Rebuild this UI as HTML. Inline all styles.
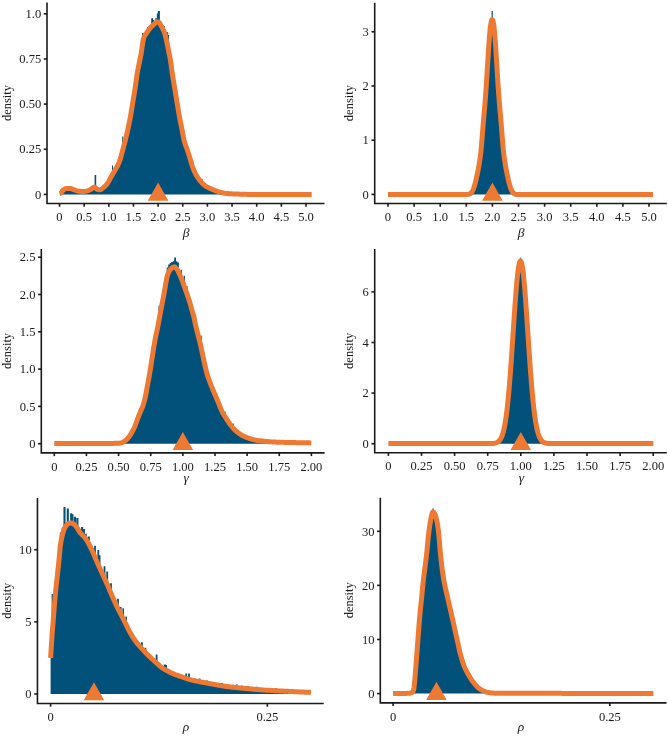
<!DOCTYPE html><html><head><meta charset="utf-8"><style>html,body{margin:0;padding:0;background:#fff;}svg{display:block;}text{font-family:'Liberation Serif', 'Times New Roman', serif;fill:#1a1a1a;}</style></head><body>
<svg width="668" height="736" viewBox="0 0 668 736">
<rect width="668" height="736" fill="#fff"/>
<path d="M59.50 194.40 L59.50 194.40 L60.46 194.28 L61.18 193.71 L61.79 192.86 L62.39 191.96 L63.07 191.22 L63.88 190.63 L64.76 190.04 L65.69 189.59 L66.64 189.40 L67.61 189.41 L68.62 189.43 L69.64 189.47 L70.62 189.53 L71.58 189.77 L72.52 190.15 L73.46 190.54 L74.41 190.87 L75.35 191.22 L76.30 191.56 L77.26 191.86 L78.22 192.07 L79.20 192.21 L80.20 192.33 L81.20 192.43 L82.20 192.49 L83.19 192.50 L84.20 192.43 L85.20 192.30 L86.19 192.13 L87.16 191.93 L88.10 191.67 L89.03 191.28 L89.93 190.82 L90.82 190.34 L91.69 189.77 L92.55 189.06 L93.39 188.42 L94.21 188.03 L94.99 188.17 L95.72 188.92 L96.46 189.80 L97.27 190.32 L98.24 190.53 L99.27 190.67 L100.22 190.67 L101.12 190.34 L101.98 189.76 L102.81 189.07 L103.60 188.42 L104.37 187.79 L105.12 187.11 L105.83 186.39 L106.50 185.64 L107.12 184.87 L107.68 184.07 L108.21 183.23 L108.70 182.36 L109.18 181.47 L109.64 180.58 L110.11 179.68 L110.59 178.80 L111.08 177.93 L111.57 177.06 L112.07 176.19 L112.56 175.32 L113.05 174.45 L113.54 173.58 L114.05 172.71 L114.56 171.85 L115.09 170.99 L115.61 170.13 L116.14 169.26 L116.65 168.40 L117.14 167.53 L117.62 166.65 L118.06 165.76 L118.48 164.87 L118.86 163.96 L119.21 163.04 L119.54 162.11 L119.87 161.18 L120.18 160.23 L120.47 159.28 L120.76 158.32 L121.04 157.36 L121.31 156.39 L121.58 155.42 L121.84 154.45 L122.09 153.48 L122.35 152.50 L122.60 151.53 L122.85 150.56 L123.11 149.59 L123.37 148.62 L123.63 147.66 L123.89 146.69 L124.14 145.72 L124.40 144.76 L124.65 143.79 L124.90 142.82 L125.15 141.85 L125.39 140.89 L125.63 139.92 L125.87 138.95 L126.11 137.97 L126.35 137.00 L126.58 136.03 L126.81 135.06 L127.03 134.08 L127.25 133.11 L127.47 132.14 L127.69 131.16 L127.90 130.19 L128.12 129.21 L128.33 128.23 L128.53 127.25 L128.74 126.28 L128.94 125.30 L129.14 124.32 L129.34 123.34 L129.54 122.36 L129.73 121.38 L129.92 120.40 L130.11 119.41 L130.29 118.43 L130.47 117.45 L130.65 116.47 L130.83 115.48 L131.00 114.50 L131.17 113.52 L131.33 112.53 L131.50 111.55 L131.66 110.56 L131.82 109.57 L131.98 108.59 L132.14 107.60 L132.30 106.61 L132.45 105.63 L132.61 104.64 L132.77 103.65 L132.93 102.66 L133.09 101.68 L133.25 100.69 L133.41 99.71 L133.57 98.72 L133.73 97.73 L133.89 96.75 L134.06 95.76 L134.22 94.78 L134.38 93.79 L134.54 92.80 L134.69 91.82 L134.85 90.83 L135.01 89.84 L135.16 88.85 L135.32 87.87 L135.47 86.88 L135.62 85.89 L135.76 84.90 L135.90 83.91 L136.04 82.92 L136.17 81.93 L136.30 80.94 L136.43 79.95 L136.57 78.96 L136.70 77.97 L136.84 76.98 L136.98 75.99 L137.13 75.00 L137.28 74.02 L137.45 73.03 L137.62 72.05 L137.80 71.07 L138.00 70.09 L138.20 69.11 L138.40 68.13 L138.60 67.15 L138.81 66.17 L139.02 65.19 L139.22 64.21 L139.41 63.23 L139.62 62.26 L139.82 61.28 L140.03 60.30 L140.23 59.32 L140.43 58.34 L140.63 57.36 L140.82 56.38 L141.01 55.40 L141.18 54.42 L141.34 53.43 L141.49 52.44 L141.63 51.45 L141.77 50.46 L141.90 49.47 L142.04 48.48 L142.18 47.49 L142.32 46.50 L142.48 45.52 L142.65 44.53 L142.81 43.54 L142.98 42.53 L143.16 41.53 L143.35 40.54 L143.57 39.57 L143.83 38.63 L144.15 37.72 L144.60 36.86 L145.16 36.02 L145.77 35.19 L146.36 34.36 L146.91 33.53 L147.46 32.69 L148.02 31.85 L148.59 31.03 L149.19 30.24 L149.81 29.47 L150.47 28.72 L151.16 27.99 L151.87 27.28 L152.60 26.59 L153.35 25.93 L154.13 25.24 L154.96 24.47 L155.81 23.72 L156.65 23.11 L157.43 22.75 L158.15 22.76 L158.83 23.20 L159.49 23.96 L160.11 24.92 L160.70 25.96 L161.25 26.96 L161.75 27.83 L162.23 28.70 L162.70 29.58 L163.14 30.49 L163.55 31.41 L163.94 32.34 L164.31 33.28 L164.64 34.22 L164.94 35.16 L165.22 36.11 L165.48 37.08 L165.72 38.05 L165.95 39.02 L166.17 40.00 L166.39 40.98 L166.60 41.96 L166.81 42.94 L167.02 43.92 L167.22 44.90 L167.41 45.88 L167.60 46.86 L167.79 47.84 L167.97 48.82 L168.16 49.80 L168.36 50.79 L168.56 51.76 L168.77 52.74 L168.98 53.72 L169.19 54.70 L169.40 55.67 L169.61 56.65 L169.81 57.63 L170.00 58.61 L170.17 59.59 L170.33 60.58 L170.48 61.57 L170.63 62.55 L170.77 63.54 L170.91 64.53 L171.05 65.52 L171.19 66.51 L171.33 67.50 L171.46 68.49 L171.60 69.48 L171.73 70.47 L171.86 71.47 L171.99 72.46 L172.12 73.45 L172.26 74.44 L172.41 75.42 L172.56 76.41 L172.72 77.40 L172.87 78.38 L173.04 79.37 L173.20 80.36 L173.37 81.34 L173.53 82.33 L173.70 83.31 L173.87 84.30 L174.03 85.28 L174.19 86.27 L174.36 87.26 L174.52 88.24 L174.68 89.23 L174.84 90.21 L175.00 91.20 L175.16 92.19 L175.32 93.17 L175.49 94.16 L175.65 95.14 L175.81 96.13 L175.97 97.12 L176.14 98.10 L176.30 99.09 L176.46 100.07 L176.63 101.06 L176.79 102.04 L176.95 103.03 L177.12 104.02 L177.28 105.00 L177.45 105.99 L177.61 106.97 L177.77 107.96 L177.94 108.95 L178.10 109.93 L178.27 110.92 L178.44 111.90 L178.61 112.89 L178.78 113.87 L178.95 114.85 L179.13 115.84 L179.30 116.82 L179.48 117.80 L179.67 118.79 L179.85 119.77 L180.04 120.75 L180.23 121.73 L180.42 122.71 L180.62 123.69 L180.81 124.67 L181.01 125.65 L181.20 126.63 L181.40 127.61 L181.60 128.59 L181.79 129.57 L181.99 130.55 L182.19 131.53 L182.38 132.51 L182.57 133.49 L182.75 134.48 L182.93 135.46 L183.11 136.45 L183.29 137.44 L183.48 138.42 L183.67 139.40 L183.88 140.38 L184.09 141.35 L184.33 142.32 L184.58 143.28 L184.86 144.23 L185.18 145.17 L185.53 146.11 L185.89 147.04 L186.26 147.98 L186.62 148.91 L186.97 149.85 L187.30 150.80 L187.61 151.74 L187.93 152.69 L188.23 153.65 L188.53 154.60 L188.83 155.55 L189.13 156.51 L189.42 157.46 L189.72 158.42 L190.01 159.37 L190.30 160.33 L190.57 161.29 L190.85 162.26 L191.12 163.22 L191.39 164.18 L191.67 165.14 L191.96 166.10 L192.27 167.05 L192.59 167.99 L192.94 168.92 L193.30 169.85 L193.68 170.78 L194.07 171.71 L194.48 172.62 L194.91 173.53 L195.35 174.42 L195.81 175.30 L196.29 176.17 L196.79 177.04 L197.32 177.90 L197.87 178.75 L198.43 179.58 L199.02 180.39 L199.62 181.18 L200.24 181.94 L200.89 182.71 L201.56 183.48 L202.25 184.22 L202.97 184.94 L203.71 185.62 L204.47 186.26 L205.25 186.84 L206.07 187.37 L206.92 187.87 L207.81 188.34 L208.72 188.79 L209.64 189.22 L210.56 189.63 L211.48 190.03 L212.39 190.43 L213.31 190.82 L214.24 191.20 L215.18 191.56 L216.12 191.90 L217.07 192.23 L218.02 192.53 L218.97 192.80 L219.93 193.08 L220.90 193.34 L221.87 193.60 L222.85 193.84 L223.83 194.06 L224.81 194.25 L225.80 194.40 L226.78 194.40 L227.77 194.40 L228.77 194.40 L229.76 194.40 L230.76 194.40 L231.76 194.40 L232.76 194.40 L233.76 194.40 L234.76 194.40 L235.76 194.40 L236.76 194.40 L237.76 194.40 L238.76 194.40 L239.76 194.40 L240.76 194.40 L241.76 194.40 L242.75 194.40 L243.75 194.40 L244.75 194.40 L245.75 194.40 L246.75 194.40 L247.75 194.40 L248.75 194.40 L249.75 194.40 L250.75 194.40 L251.75 194.40 L252.74 194.40 L253.74 194.40 L254.74 194.40 L255.74 194.40 L256.74 194.40 L257.74 194.40 L258.74 194.40 L259.74 194.40 L260.74 194.40 L261.74 194.40 L262.73 194.40 L263.73 194.40 L264.73 194.40 L265.73 194.40 L266.73 194.40 L267.73 194.40 L268.73 194.40 L269.73 194.40 L270.73 194.40 L271.73 194.40 L272.73 194.40 L273.73 194.40 L274.72 194.40 L275.72 194.40 L276.72 194.40 L277.72 194.40 L278.72 194.40 L279.72 194.40 L280.72 194.40 L281.72 194.40 L282.72 194.40 L283.72 194.40 L284.72 194.40 L285.72 194.40 L286.71 194.40 L287.71 194.40 L288.71 194.40 L289.71 194.40 L290.71 194.40 L291.71 194.40 L292.71 194.40 L293.71 194.40 L294.71 194.40 L295.71 194.40 L296.71 194.40 L297.71 194.40 L298.71 194.40 L299.71 194.40 L300.71 194.40 L301.71 194.40 L302.70 194.40 L303.70 194.40 L304.70 194.40 L305.70 194.40 L306.70 194.40 L307.70 194.40 L308.70 194.40 L309.70 194.40 L310.70 194.40 L311.70 194.40 L311.70 194.40 Z M157.80 194.40 V11.00 H159.90 V194.40 Z M156.85 194.40 V13.40 H158.35 V194.40 Z M155.40 194.40 V17.90 H156.60 V194.40 Z M151.20 194.40 V18.20 H153.00 V194.40 Z M153.00 194.40 V20.00 H154.20 V194.40 Z M147.00 194.40 V27.20 H148.20 V194.40 Z M142.10 194.40 V33.10 H143.70 V194.40 Z M163.70 194.40 V26.00 H164.90 V194.40 Z M167.20 194.40 V32.00 H168.20 V194.40 Z M168.20 194.40 V35.00 H169.00 V194.40 Z M94.60 194.40 V174.90 H96.20 V194.40 Z M122.20 194.40 V136.60 H123.20 V194.40 Z M112.00 194.40 V165.50 H113.00 V194.40 Z M192.10 194.40 V160.20 H193.10 V194.40 Z M201.40 194.40 V179.10 H202.60 V194.40 Z" fill="#02517a"/>
<path d="M59.50 193.50 L60.46 193.28 L61.18 192.71 L61.79 191.86 L62.39 190.96 L63.07 190.22 L63.88 189.63 L64.76 189.04 L65.69 188.59 L66.64 188.40 L67.61 188.41 L68.62 188.43 L69.64 188.47 L70.62 188.53 L71.58 188.77 L72.52 189.15 L73.46 189.54 L74.41 189.87 L75.35 190.22 L76.30 190.56 L77.26 190.86 L78.22 191.07 L79.20 191.21 L80.20 191.33 L81.20 191.43 L82.20 191.49 L83.19 191.50 L84.20 191.43 L85.20 191.30 L86.19 191.13 L87.16 190.93 L88.10 190.67 L89.03 190.28 L89.93 189.82 L90.82 189.34 L91.69 188.77 L92.55 188.06 L93.39 187.42 L94.21 187.03 L94.99 187.17 L95.72 187.92 L96.46 188.80 L97.27 189.32 L98.24 189.53 L99.27 189.67 L100.22 189.67 L101.12 189.34 L101.98 188.76 L102.81 188.07 L103.60 187.42 L104.37 186.79 L105.12 186.11 L105.83 185.39 L106.50 184.64 L107.12 183.87 L107.68 183.07 L108.21 182.23 L108.70 181.36 L109.18 180.47 L109.64 179.58 L110.11 178.68 L110.59 177.80 L111.08 176.93 L111.57 176.06 L112.07 175.19 L112.56 174.32 L113.05 173.45 L113.54 172.58 L114.05 171.71 L114.56 170.85 L115.09 169.99 L115.61 169.13 L116.14 168.26 L116.65 167.40 L117.14 166.53 L117.62 165.65 L118.06 164.76 L118.48 163.87 L118.86 162.96 L119.21 162.04 L119.54 161.11 L119.87 160.18 L120.18 159.23 L120.47 158.28 L120.76 157.32 L121.04 156.36 L121.31 155.39 L121.58 154.42 L121.84 153.45 L122.09 152.48 L122.35 151.50 L122.60 150.53 L122.85 149.56 L123.11 148.59 L123.37 147.62 L123.63 146.66 L123.89 145.69 L124.14 144.72 L124.40 143.76 L124.65 142.79 L124.90 141.82 L125.15 140.85 L125.39 139.89 L125.63 138.92 L125.87 137.95 L126.11 136.97 L126.35 136.00 L126.58 135.03 L126.81 134.06 L127.03 133.08 L127.25 132.11 L127.47 131.14 L127.69 130.16 L127.90 129.19 L128.12 128.21 L128.33 127.23 L128.53 126.25 L128.74 125.28 L128.94 124.30 L129.14 123.32 L129.34 122.34 L129.54 121.36 L129.73 120.38 L129.92 119.40 L130.11 118.41 L130.29 117.43 L130.47 116.45 L130.65 115.47 L130.83 114.48 L131.00 113.50 L131.17 112.52 L131.33 111.53 L131.50 110.55 L131.66 109.56 L131.82 108.57 L131.98 107.59 L132.14 106.60 L132.30 105.61 L132.45 104.63 L132.61 103.64 L132.77 102.65 L132.93 101.66 L133.09 100.68 L133.25 99.69 L133.41 98.71 L133.57 97.72 L133.73 96.73 L133.89 95.75 L134.06 94.76 L134.22 93.78 L134.38 92.79 L134.54 91.80 L134.69 90.82 L134.85 89.83 L135.01 88.84 L135.16 87.85 L135.32 86.87 L135.47 85.88 L135.62 84.89 L135.76 83.90 L135.90 82.91 L136.04 81.92 L136.17 80.93 L136.30 79.94 L136.43 78.95 L136.57 77.96 L136.70 76.97 L136.84 75.98 L136.98 74.99 L137.13 74.00 L137.28 73.02 L137.45 72.03 L137.62 71.05 L137.80 70.07 L138.00 69.09 L138.20 68.11 L138.40 67.13 L138.60 66.15 L138.81 65.17 L139.02 64.19 L139.22 63.21 L139.41 62.23 L139.62 61.26 L139.82 60.28 L140.03 59.30 L140.23 58.32 L140.43 57.34 L140.63 56.36 L140.82 55.38 L141.01 54.40 L141.18 53.42 L141.34 52.43 L141.49 51.44 L141.63 50.45 L141.77 49.46 L141.90 48.47 L142.04 47.48 L142.18 46.49 L142.32 45.50 L142.48 44.52 L142.65 43.53 L142.81 42.54 L142.98 41.53 L143.16 40.53 L143.35 39.54 L143.57 38.57 L143.83 37.63 L144.15 36.72 L144.60 35.86 L145.16 35.02 L145.77 34.19 L146.36 33.36 L146.91 32.53 L147.46 31.69 L148.02 30.85 L148.59 30.03 L149.19 29.24 L149.81 28.47 L150.47 27.72 L151.16 26.99 L151.87 26.28 L152.60 25.59 L153.35 24.93 L154.13 24.24 L154.96 23.47 L155.81 22.72 L156.65 22.11 L157.43 21.75 L158.15 21.76 L158.83 22.20 L159.49 22.96 L160.11 23.92 L160.70 24.96 L161.25 25.96 L161.75 26.83 L162.23 27.70 L162.70 28.58 L163.14 29.49 L163.55 30.41 L163.94 31.34 L164.31 32.28 L164.64 33.22 L164.94 34.16 L165.22 35.11 L165.48 36.08 L165.72 37.05 L165.95 38.02 L166.17 39.00 L166.39 39.98 L166.60 40.96 L166.81 41.94 L167.02 42.92 L167.22 43.90 L167.41 44.88 L167.60 45.86 L167.79 46.84 L167.97 47.82 L168.16 48.80 L168.36 49.79 L168.56 50.76 L168.77 51.74 L168.98 52.72 L169.19 53.70 L169.40 54.67 L169.61 55.65 L169.81 56.63 L170.00 57.61 L170.17 58.59 L170.33 59.58 L170.48 60.57 L170.63 61.55 L170.77 62.54 L170.91 63.53 L171.05 64.52 L171.19 65.51 L171.33 66.50 L171.46 67.49 L171.60 68.48 L171.73 69.47 L171.86 70.47 L171.99 71.46 L172.12 72.45 L172.26 73.44 L172.41 74.42 L172.56 75.41 L172.72 76.40 L172.87 77.38 L173.04 78.37 L173.20 79.36 L173.37 80.34 L173.53 81.33 L173.70 82.31 L173.87 83.30 L174.03 84.28 L174.19 85.27 L174.36 86.26 L174.52 87.24 L174.68 88.23 L174.84 89.21 L175.00 90.20 L175.16 91.19 L175.32 92.17 L175.49 93.16 L175.65 94.14 L175.81 95.13 L175.97 96.12 L176.14 97.10 L176.30 98.09 L176.46 99.07 L176.63 100.06 L176.79 101.04 L176.95 102.03 L177.12 103.02 L177.28 104.00 L177.45 104.99 L177.61 105.97 L177.77 106.96 L177.94 107.95 L178.10 108.93 L178.27 109.92 L178.44 110.90 L178.61 111.89 L178.78 112.87 L178.95 113.85 L179.13 114.84 L179.30 115.82 L179.48 116.80 L179.67 117.79 L179.85 118.77 L180.04 119.75 L180.23 120.73 L180.42 121.71 L180.62 122.69 L180.81 123.67 L181.01 124.65 L181.20 125.63 L181.40 126.61 L181.60 127.59 L181.79 128.57 L181.99 129.55 L182.19 130.53 L182.38 131.51 L182.57 132.49 L182.75 133.48 L182.93 134.46 L183.11 135.45 L183.29 136.44 L183.48 137.42 L183.67 138.40 L183.88 139.38 L184.09 140.35 L184.33 141.32 L184.58 142.28 L184.86 143.23 L185.18 144.17 L185.53 145.11 L185.89 146.04 L186.26 146.98 L186.62 147.91 L186.97 148.85 L187.30 149.80 L187.61 150.74 L187.93 151.69 L188.23 152.65 L188.53 153.60 L188.83 154.55 L189.13 155.51 L189.42 156.46 L189.72 157.42 L190.01 158.37 L190.30 159.33 L190.57 160.29 L190.85 161.26 L191.12 162.22 L191.39 163.18 L191.67 164.14 L191.96 165.10 L192.27 166.05 L192.59 166.99 L192.94 167.92 L193.30 168.85 L193.68 169.78 L194.07 170.71 L194.48 171.62 L194.91 172.53 L195.35 173.42 L195.81 174.30 L196.29 175.17 L196.79 176.04 L197.32 176.90 L197.87 177.75 L198.43 178.58 L199.02 179.39 L199.62 180.18 L200.24 180.94 L200.89 181.71 L201.56 182.48 L202.25 183.22 L202.97 183.94 L203.71 184.62 L204.47 185.26 L205.25 185.84 L206.07 186.37 L206.92 186.87 L207.81 187.34 L208.72 187.79 L209.64 188.22 L210.56 188.63 L211.48 189.03 L212.39 189.43 L213.31 189.82 L214.24 190.20 L215.18 190.56 L216.12 190.90 L217.07 191.23 L218.02 191.53 L218.97 191.80 L219.93 192.08 L220.90 192.34 L221.87 192.60 L222.85 192.84 L223.83 193.06 L224.81 193.25 L225.80 193.40 L226.78 193.51 L227.77 193.59 L228.77 193.66 L229.76 193.73 L230.76 193.78 L231.76 193.84 L232.76 193.88 L233.76 193.92 L234.76 193.96 L235.76 194.00 L236.76 194.04 L237.76 194.08 L238.76 194.12 L239.76 194.15 L240.76 194.19 L241.76 194.23 L242.75 194.26 L243.75 194.29 L244.75 194.32 L245.75 194.34 L246.75 194.36 L247.75 194.38 L248.75 194.39 L249.75 194.40 L250.75 194.40 L251.75 194.41 L252.74 194.41 L253.74 194.41 L254.74 194.42 L255.74 194.42 L256.74 194.42 L257.74 194.43 L258.74 194.43 L259.74 194.43 L260.74 194.44 L261.74 194.44 L262.73 194.44 L263.73 194.44 L264.73 194.45 L265.73 194.45 L266.73 194.45 L267.73 194.45 L268.73 194.46 L269.73 194.46 L270.73 194.46 L271.73 194.46 L272.73 194.46 L273.73 194.47 L274.72 194.47 L275.72 194.47 L276.72 194.47 L277.72 194.47 L278.72 194.48 L279.72 194.48 L280.72 194.48 L281.72 194.48 L282.72 194.48 L283.72 194.48 L284.72 194.48 L285.72 194.49 L286.71 194.49 L287.71 194.49 L288.71 194.49 L289.71 194.49 L290.71 194.49 L291.71 194.49 L292.71 194.49 L293.71 194.49 L294.71 194.49 L295.71 194.49 L296.71 194.50 L297.71 194.50 L298.71 194.50 L299.71 194.50 L300.71 194.50 L301.71 194.50 L302.70 194.50 L303.70 194.50 L304.70 194.50 L305.70 194.50 L306.70 194.50 L307.70 194.50 L308.70 194.50 L309.70 194.50 L310.70 194.50 L311.70 194.50" fill="none" stroke="#ed7933" stroke-width="5" stroke-linejoin="round" stroke-linecap="butt"/>
<path d="M158.10 182.60 L147.80 200.70 L168.40 200.70 Z" fill="#ed7933"/>
<path d="M47.00 2.60 V203.50 H324.50" fill="none" stroke="#1a1a1a" stroke-width="1.6"/>
<path d="M43.80 194.40 H47.00" stroke="#1a1a1a" stroke-width="1.6"/>
<text transform="translate(41.20 198.60) scale(0.93 1)" font-size="13.5" text-anchor="end">0</text>
<path d="M43.80 149.25 H47.00" stroke="#1a1a1a" stroke-width="1.6"/>
<text transform="translate(41.20 153.45) scale(0.93 1)" font-size="13.5" text-anchor="end">0.25</text>
<path d="M43.80 104.10 H47.00" stroke="#1a1a1a" stroke-width="1.6"/>
<text transform="translate(41.20 108.30) scale(0.93 1)" font-size="13.5" text-anchor="end">0.50</text>
<path d="M43.80 58.95 H47.00" stroke="#1a1a1a" stroke-width="1.6"/>
<text transform="translate(41.20 63.15) scale(0.93 1)" font-size="13.5" text-anchor="end">0.75</text>
<path d="M43.80 13.80 H47.00" stroke="#1a1a1a" stroke-width="1.6"/>
<text transform="translate(41.20 18.00) scale(0.93 1)" font-size="13.5" text-anchor="end">1.0</text>
<path d="M59.50 203.50 V206.70" stroke="#1a1a1a" stroke-width="1.6"/>
<text transform="translate(59.50 221.10) scale(0.93 1)" font-size="13.5" text-anchor="middle">0</text>
<path d="M84.15 203.50 V206.70" stroke="#1a1a1a" stroke-width="1.6"/>
<text transform="translate(84.15 221.10) scale(0.93 1)" font-size="13.5" text-anchor="middle">0.5</text>
<path d="M108.80 203.50 V206.70" stroke="#1a1a1a" stroke-width="1.6"/>
<text transform="translate(108.80 221.10) scale(0.93 1)" font-size="13.5" text-anchor="middle">1.0</text>
<path d="M133.45 203.50 V206.70" stroke="#1a1a1a" stroke-width="1.6"/>
<text transform="translate(133.45 221.10) scale(0.93 1)" font-size="13.5" text-anchor="middle">1.5</text>
<path d="M158.10 203.50 V206.70" stroke="#1a1a1a" stroke-width="1.6"/>
<text transform="translate(158.10 221.10) scale(0.93 1)" font-size="13.5" text-anchor="middle">2.0</text>
<path d="M182.75 203.50 V206.70" stroke="#1a1a1a" stroke-width="1.6"/>
<text transform="translate(182.75 221.10) scale(0.93 1)" font-size="13.5" text-anchor="middle">2.5</text>
<path d="M207.40 203.50 V206.70" stroke="#1a1a1a" stroke-width="1.6"/>
<text transform="translate(207.40 221.10) scale(0.93 1)" font-size="13.5" text-anchor="middle">3.0</text>
<path d="M232.05 203.50 V206.70" stroke="#1a1a1a" stroke-width="1.6"/>
<text transform="translate(232.05 221.10) scale(0.93 1)" font-size="13.5" text-anchor="middle">3.5</text>
<path d="M256.70 203.50 V206.70" stroke="#1a1a1a" stroke-width="1.6"/>
<text transform="translate(256.70 221.10) scale(0.93 1)" font-size="13.5" text-anchor="middle">4.0</text>
<path d="M281.35 203.50 V206.70" stroke="#1a1a1a" stroke-width="1.6"/>
<text transform="translate(281.35 221.10) scale(0.93 1)" font-size="13.5" text-anchor="middle">4.5</text>
<path d="M306.00 203.50 V206.70" stroke="#1a1a1a" stroke-width="1.6"/>
<text transform="translate(306.00 221.10) scale(0.93 1)" font-size="13.5" text-anchor="middle">5.0</text>
<text x="186.00" y="236.70" font-size="13.5" font-style="italic" text-anchor="middle">β</text>
<text transform="translate(10.90 103.05) rotate(-90)" font-size="12.5" text-anchor="middle">density</text>
<path d="M388.00 194.40 L388.00 194.40 L389.00 194.40 L390.00 194.40 L391.00 194.40 L392.00 194.40 L393.00 194.40 L394.00 194.40 L395.00 194.40 L396.00 194.40 L397.00 194.40 L398.00 194.40 L399.00 194.40 L400.00 194.40 L401.00 194.40 L402.00 194.40 L403.00 194.40 L404.00 194.40 L405.00 194.40 L406.00 194.40 L407.00 194.40 L408.00 194.40 L409.00 194.40 L410.00 194.40 L411.00 194.40 L412.00 194.40 L413.00 194.40 L414.00 194.40 L415.00 194.40 L415.99 194.40 L416.99 194.40 L417.99 194.40 L418.99 194.40 L419.99 194.40 L420.99 194.40 L421.99 194.40 L422.99 194.40 L423.99 194.40 L424.99 194.40 L425.99 194.40 L426.99 194.40 L427.99 194.40 L428.99 194.40 L429.99 194.40 L430.99 194.40 L431.99 194.40 L432.99 194.40 L433.99 194.40 L434.99 194.40 L435.99 194.40 L436.99 194.40 L437.99 194.40 L438.99 194.40 L439.99 194.40 L440.99 194.40 L441.99 194.40 L442.99 194.40 L443.99 194.40 L444.99 194.40 L445.99 194.40 L446.99 194.40 L447.99 194.40 L448.99 194.40 L449.99 194.40 L450.99 194.40 L451.99 194.40 L452.99 194.40 L453.99 194.40 L454.99 194.40 L455.99 194.40 L456.99 194.40 L457.99 194.40 L458.99 194.40 L459.99 194.40 L460.99 194.40 L461.99 194.40 L462.99 194.40 L463.99 194.40 L464.99 194.40 L465.99 194.40 L466.99 194.40 L467.99 194.40 L468.97 194.40 L469.88 194.40 L470.72 194.30 L471.43 193.60 L472.01 192.79 L472.52 191.93 L472.98 191.04 L473.37 190.12 L473.72 189.18 L474.04 188.24 L474.35 187.29 L474.64 186.33 L474.92 185.37 L475.18 184.40 L475.43 183.44 L475.66 182.46 L475.89 181.49 L476.11 180.52 L476.33 179.54 L476.54 178.56 L476.76 177.59 L476.97 176.61 L477.17 175.63 L477.38 174.65 L477.59 173.67 L477.79 172.69 L477.98 171.71 L478.18 170.73 L478.36 169.75 L478.54 168.77 L478.72 167.78 L478.89 166.80 L479.05 165.81 L479.22 164.83 L479.38 163.84 L479.53 162.85 L479.69 161.86 L479.84 160.87 L479.98 159.88 L480.12 158.90 L480.26 157.90 L480.39 156.91 L480.52 155.92 L480.65 154.93 L480.77 153.94 L480.88 152.94 L480.99 151.95 L481.09 150.96 L481.19 149.96 L481.28 148.97 L481.37 147.97 L481.46 146.97 L481.54 145.98 L481.62 144.98 L481.70 143.98 L481.78 142.99 L481.85 141.99 L481.93 140.99 L482.01 140.00 L482.09 139.00 L482.17 138.00 L482.25 137.01 L482.33 136.01 L482.41 135.01 L482.49 134.02 L482.57 133.02 L482.65 132.02 L482.73 131.03 L482.81 130.03 L482.89 129.03 L482.97 128.04 L483.05 127.04 L483.13 126.04 L483.21 125.05 L483.29 124.05 L483.37 123.05 L483.45 122.06 L483.53 121.06 L483.62 120.07 L483.71 119.07 L483.79 118.07 L483.88 117.08 L483.97 116.08 L484.06 115.09 L484.15 114.09 L484.24 113.09 L484.33 112.10 L484.42 111.10 L484.50 110.11 L484.59 109.11 L484.67 108.11 L484.76 107.12 L484.84 106.12 L484.92 105.12 L485.00 104.13 L485.08 103.13 L485.16 102.13 L485.24 101.14 L485.32 100.14 L485.40 99.14 L485.47 98.15 L485.55 97.15 L485.62 96.15 L485.70 95.16 L485.77 94.16 L485.84 93.16 L485.91 92.16 L485.98 91.17 L486.05 90.17 L486.12 89.17 L486.19 88.18 L486.26 87.18 L486.33 86.18 L486.39 85.18 L486.46 84.18 L486.52 83.19 L486.59 82.19 L486.65 81.19 L486.71 80.19 L486.77 79.20 L486.84 78.20 L486.90 77.20 L486.96 76.20 L487.02 75.20 L487.08 74.21 L487.14 73.21 L487.20 72.21 L487.27 71.21 L487.33 70.21 L487.39 69.22 L487.45 68.22 L487.51 67.22 L487.58 66.22 L487.64 65.22 L487.70 64.23 L487.76 63.23 L487.83 62.23 L487.89 61.23 L487.95 60.24 L488.02 59.24 L488.08 58.24 L488.14 57.24 L488.20 56.24 L488.26 55.25 L488.32 54.25 L488.39 53.25 L488.45 52.25 L488.51 51.25 L488.58 50.26 L488.64 49.26 L488.71 48.26 L488.78 47.26 L488.84 46.27 L488.91 45.27 L488.99 44.27 L489.06 43.28 L489.14 42.28 L489.21 41.28 L489.29 40.28 L489.37 39.29 L489.45 38.29 L489.53 37.29 L489.61 36.30 L489.69 35.30 L489.77 34.30 L489.86 33.31 L489.95 32.31 L490.04 31.32 L490.13 30.32 L490.23 29.33 L490.34 28.33 L490.46 27.34 L490.60 26.35 L490.77 25.37 L490.96 24.38 L491.15 23.40 L491.36 22.42 L491.61 21.38 L491.98 20.50 L492.68 20.97 L492.94 22.03 L493.17 23.02 L493.37 24.00 L493.55 24.98 L493.72 25.97 L493.88 26.96 L494.01 27.95 L494.13 28.94 L494.23 29.93 L494.33 30.93 L494.42 31.93 L494.50 32.92 L494.59 33.92 L494.68 34.91 L494.76 35.91 L494.84 36.91 L494.92 37.90 L494.99 38.90 L495.07 39.90 L495.15 40.89 L495.23 41.89 L495.31 42.89 L495.38 43.88 L495.46 44.88 L495.53 45.88 L495.60 46.88 L495.67 47.87 L495.73 48.87 L495.80 49.87 L495.86 50.87 L495.93 51.86 L495.99 52.86 L496.05 53.86 L496.12 54.86 L496.18 55.86 L496.24 56.85 L496.30 57.85 L496.36 58.85 L496.42 59.85 L496.48 60.85 L496.55 61.84 L496.61 62.84 L496.67 63.84 L496.74 64.84 L496.80 65.83 L496.86 66.83 L496.93 67.83 L496.99 68.83 L497.05 69.83 L497.11 70.82 L497.17 71.82 L497.23 72.82 L497.29 73.82 L497.36 74.82 L497.42 75.81 L497.48 76.81 L497.54 77.81 L497.60 78.81 L497.66 79.81 L497.73 80.80 L497.79 81.80 L497.85 82.80 L497.91 83.80 L497.98 84.79 L498.05 85.79 L498.11 86.79 L498.18 87.79 L498.25 88.78 L498.32 89.78 L498.39 90.78 L498.46 91.78 L498.53 92.77 L498.60 93.77 L498.68 94.77 L498.75 95.77 L498.82 96.76 L498.90 97.76 L498.97 98.76 L499.05 99.75 L499.13 100.75 L499.21 101.75 L499.28 102.74 L499.36 103.74 L499.44 104.74 L499.53 105.73 L499.61 106.73 L499.69 107.73 L499.78 108.72 L499.86 109.72 L499.95 110.71 L500.04 111.71 L500.13 112.71 L500.22 113.70 L500.31 114.70 L500.40 115.69 L500.49 116.69 L500.57 117.69 L500.66 118.68 L500.75 119.68 L500.83 120.67 L500.92 121.67 L501.00 122.67 L501.08 123.66 L501.16 124.66 L501.24 125.66 L501.32 126.65 L501.40 127.65 L501.48 128.65 L501.56 129.64 L501.64 130.64 L501.72 131.64 L501.80 132.63 L501.88 133.63 L501.96 134.63 L502.04 135.62 L502.12 136.62 L502.20 137.62 L502.28 138.61 L502.36 139.61 L502.44 140.61 L502.52 141.60 L502.60 142.60 L502.67 143.60 L502.75 144.59 L502.82 145.59 L502.90 146.59 L502.99 147.58 L503.08 148.58 L503.17 149.57 L503.27 150.57 L503.37 151.56 L503.48 152.56 L503.59 153.55 L503.71 154.54 L503.83 155.54 L503.96 156.53 L504.09 157.52 L504.22 158.51 L504.36 159.50 L504.51 160.49 L504.65 161.48 L504.81 162.47 L504.96 163.45 L505.12 164.44 L505.28 165.43 L505.45 166.41 L505.62 167.40 L505.79 168.38 L505.97 169.37 L506.15 170.35 L506.34 171.33 L506.54 172.31 L506.73 173.29 L506.94 174.27 L507.14 175.25 L507.35 176.23 L507.56 177.21 L507.77 178.18 L507.99 179.16 L508.20 180.14 L508.42 181.11 L508.65 182.09 L508.88 183.06 L509.12 184.03 L509.38 184.99 L509.65 185.96 L509.94 186.91 L510.24 187.87 L510.55 188.82 L510.89 189.76 L511.26 190.69 L511.69 191.59 L512.19 192.46 L512.73 193.29 L513.38 194.06 L514.19 194.40 L515.07 194.40 L516.02 194.40 L517.02 194.40 L518.02 194.40 L519.02 194.40 L520.02 194.40 L521.02 194.40 L522.02 194.40 L523.02 194.40 L524.02 194.40 L525.02 194.40 L526.02 194.40 L527.02 194.40 L528.02 194.40 L529.02 194.40 L530.02 194.40 L531.02 194.40 L532.02 194.40 L533.02 194.40 L534.02 194.40 L535.02 194.40 L536.02 194.40 L537.02 194.40 L538.02 194.40 L539.02 194.40 L540.02 194.40 L541.02 194.40 L542.02 194.40 L543.02 194.40 L544.02 194.40 L545.02 194.40 L546.02 194.40 L547.02 194.40 L548.02 194.40 L549.02 194.40 L550.02 194.40 L551.02 194.40 L552.02 194.40 L553.02 194.40 L554.02 194.40 L555.02 194.40 L556.02 194.40 L557.02 194.40 L558.02 194.40 L559.02 194.40 L560.02 194.40 L561.02 194.40 L562.02 194.40 L563.02 194.40 L564.02 194.40 L565.02 194.40 L566.02 194.40 L567.02 194.40 L568.02 194.40 L569.02 194.40 L570.02 194.40 L571.02 194.40 L572.01 194.40 L573.01 194.40 L574.01 194.40 L575.01 194.40 L576.01 194.40 L577.01 194.40 L578.01 194.40 L579.01 194.40 L580.01 194.40 L581.01 194.40 L582.01 194.40 L583.01 194.40 L584.01 194.40 L585.01 194.40 L586.01 194.40 L587.01 194.40 L588.01 194.40 L589.01 194.40 L590.01 194.40 L591.01 194.40 L592.01 194.40 L593.01 194.40 L594.01 194.40 L595.01 194.40 L596.01 194.40 L597.01 194.40 L598.01 194.40 L599.01 194.40 L600.01 194.40 L601.01 194.40 L602.01 194.40 L603.01 194.40 L604.01 194.40 L605.01 194.40 L606.01 194.40 L607.01 194.40 L608.01 194.40 L609.01 194.40 L610.01 194.40 L611.01 194.40 L612.01 194.40 L613.01 194.40 L614.01 194.40 L615.01 194.40 L616.01 194.40 L617.01 194.40 L618.01 194.40 L619.01 194.40 L620.01 194.40 L621.01 194.40 L622.01 194.40 L623.01 194.40 L624.01 194.40 L625.01 194.40 L626.00 194.40 L627.00 194.40 L628.00 194.40 L629.00 194.40 L630.00 194.40 L631.00 194.40 L632.00 194.40 L633.00 194.40 L634.00 194.40 L635.00 194.40 L636.00 194.40 L637.00 194.40 L638.00 194.40 L639.00 194.40 L640.00 194.40 L641.00 194.40 L642.00 194.40 L643.00 194.40 L644.00 194.40 L645.00 194.40 L646.00 194.40 L647.00 194.40 L648.00 194.40 L649.00 194.40 L650.00 194.40 L651.00 194.40 L652.00 194.40 L653.00 194.40 L653.00 194.40 Z M491.60 194.40 V10.90 H492.80 V194.40 Z" fill="#02517a"/>
<path d="M388.00 194.40 L389.00 194.40 L390.00 194.40 L391.00 194.40 L392.00 194.40 L393.00 194.40 L394.00 194.40 L395.00 194.40 L396.00 194.40 L397.00 194.40 L398.00 194.40 L399.00 194.40 L400.00 194.40 L401.00 194.40 L402.00 194.40 L403.00 194.40 L404.00 194.40 L405.00 194.40 L406.00 194.40 L407.00 194.40 L408.00 194.40 L409.00 194.40 L410.00 194.40 L411.00 194.40 L412.00 194.40 L413.00 194.40 L414.00 194.40 L415.00 194.40 L415.99 194.40 L416.99 194.40 L417.99 194.40 L418.99 194.40 L419.99 194.40 L420.99 194.40 L421.99 194.40 L422.99 194.40 L423.99 194.40 L424.99 194.40 L425.99 194.40 L426.99 194.40 L427.99 194.40 L428.99 194.40 L429.99 194.40 L430.99 194.40 L431.99 194.40 L432.99 194.40 L433.99 194.40 L434.99 194.40 L435.99 194.40 L436.99 194.40 L437.99 194.40 L438.99 194.40 L439.99 194.40 L440.99 194.40 L441.99 194.40 L442.99 194.40 L443.99 194.40 L444.99 194.40 L445.99 194.40 L446.99 194.40 L447.99 194.40 L448.99 194.40 L449.99 194.40 L450.99 194.40 L451.99 194.40 L452.99 194.40 L453.99 194.40 L454.99 194.40 L455.99 194.40 L456.99 194.40 L457.99 194.40 L458.99 194.40 L459.99 194.40 L460.99 194.40 L461.99 194.40 L462.99 194.40 L463.99 194.40 L464.99 194.40 L465.99 194.40 L466.99 194.40 L467.99 194.40 L468.97 194.26 L469.88 193.84 L470.72 193.30 L471.43 192.60 L472.01 191.79 L472.52 190.93 L472.98 190.04 L473.37 189.12 L473.72 188.18 L474.04 187.24 L474.35 186.29 L474.64 185.33 L474.92 184.37 L475.18 183.40 L475.43 182.44 L475.66 181.46 L475.89 180.49 L476.11 179.52 L476.33 178.54 L476.54 177.56 L476.76 176.59 L476.97 175.61 L477.17 174.63 L477.38 173.65 L477.59 172.67 L477.79 171.69 L477.98 170.71 L478.18 169.73 L478.36 168.75 L478.54 167.77 L478.72 166.78 L478.89 165.80 L479.05 164.81 L479.22 163.83 L479.38 162.84 L479.53 161.85 L479.69 160.86 L479.84 159.87 L479.98 158.88 L480.12 157.90 L480.26 156.90 L480.39 155.91 L480.52 154.92 L480.65 153.93 L480.77 152.94 L480.88 151.94 L480.99 150.95 L481.09 149.96 L481.19 148.96 L481.28 147.97 L481.37 146.97 L481.46 145.97 L481.54 144.98 L481.62 143.98 L481.70 142.98 L481.78 141.99 L481.85 140.99 L481.93 139.99 L482.01 139.00 L482.09 138.00 L482.17 137.00 L482.25 136.01 L482.33 135.01 L482.41 134.01 L482.49 133.02 L482.57 132.02 L482.65 131.02 L482.73 130.03 L482.81 129.03 L482.89 128.03 L482.97 127.04 L483.05 126.04 L483.13 125.04 L483.21 124.05 L483.29 123.05 L483.37 122.05 L483.45 121.06 L483.53 120.06 L483.62 119.07 L483.71 118.07 L483.79 117.07 L483.88 116.08 L483.97 115.08 L484.06 114.09 L484.15 113.09 L484.24 112.09 L484.33 111.10 L484.42 110.10 L484.50 109.11 L484.59 108.11 L484.67 107.11 L484.76 106.12 L484.84 105.12 L484.92 104.12 L485.00 103.13 L485.08 102.13 L485.16 101.13 L485.24 100.14 L485.32 99.14 L485.40 98.14 L485.47 97.15 L485.55 96.15 L485.62 95.15 L485.70 94.16 L485.77 93.16 L485.84 92.16 L485.91 91.16 L485.98 90.17 L486.05 89.17 L486.12 88.17 L486.19 87.18 L486.26 86.18 L486.33 85.18 L486.39 84.18 L486.46 83.18 L486.52 82.19 L486.59 81.19 L486.65 80.19 L486.71 79.19 L486.77 78.20 L486.84 77.20 L486.90 76.20 L486.96 75.20 L487.02 74.20 L487.08 73.21 L487.14 72.21 L487.20 71.21 L487.27 70.21 L487.33 69.21 L487.39 68.22 L487.45 67.22 L487.51 66.22 L487.58 65.22 L487.64 64.22 L487.70 63.23 L487.76 62.23 L487.83 61.23 L487.89 60.23 L487.95 59.24 L488.02 58.24 L488.08 57.24 L488.14 56.24 L488.20 55.24 L488.26 54.25 L488.32 53.25 L488.39 52.25 L488.45 51.25 L488.51 50.25 L488.58 49.26 L488.64 48.26 L488.71 47.26 L488.78 46.26 L488.84 45.27 L488.91 44.27 L488.99 43.27 L489.06 42.28 L489.14 41.28 L489.21 40.28 L489.29 39.28 L489.37 38.29 L489.45 37.29 L489.53 36.29 L489.61 35.30 L489.69 34.30 L489.77 33.30 L489.86 32.31 L489.95 31.31 L490.04 30.32 L490.13 29.32 L490.23 28.33 L490.34 27.33 L490.46 26.34 L490.60 25.35 L490.77 24.37 L490.96 23.38 L491.15 22.40 L491.36 21.42 L491.61 20.38 L491.98 19.50 L492.68 19.97 L492.94 21.03 L493.17 22.02 L493.37 23.00 L493.55 23.98 L493.72 24.97 L493.88 25.96 L494.01 26.95 L494.13 27.94 L494.23 28.93 L494.33 29.93 L494.42 30.93 L494.50 31.92 L494.59 32.92 L494.68 33.91 L494.76 34.91 L494.84 35.91 L494.92 36.90 L494.99 37.90 L495.07 38.90 L495.15 39.89 L495.23 40.89 L495.31 41.89 L495.38 42.88 L495.46 43.88 L495.53 44.88 L495.60 45.88 L495.67 46.87 L495.73 47.87 L495.80 48.87 L495.86 49.87 L495.93 50.86 L495.99 51.86 L496.05 52.86 L496.12 53.86 L496.18 54.86 L496.24 55.85 L496.30 56.85 L496.36 57.85 L496.42 58.85 L496.48 59.85 L496.55 60.84 L496.61 61.84 L496.67 62.84 L496.74 63.84 L496.80 64.83 L496.86 65.83 L496.93 66.83 L496.99 67.83 L497.05 68.83 L497.11 69.82 L497.17 70.82 L497.23 71.82 L497.29 72.82 L497.36 73.82 L497.42 74.81 L497.48 75.81 L497.54 76.81 L497.60 77.81 L497.66 78.81 L497.73 79.80 L497.79 80.80 L497.85 81.80 L497.91 82.80 L497.98 83.79 L498.05 84.79 L498.11 85.79 L498.18 86.79 L498.25 87.78 L498.32 88.78 L498.39 89.78 L498.46 90.78 L498.53 91.77 L498.60 92.77 L498.68 93.77 L498.75 94.77 L498.82 95.76 L498.90 96.76 L498.97 97.76 L499.05 98.75 L499.13 99.75 L499.21 100.75 L499.28 101.74 L499.36 102.74 L499.44 103.74 L499.53 104.73 L499.61 105.73 L499.69 106.73 L499.78 107.72 L499.86 108.72 L499.95 109.71 L500.04 110.71 L500.13 111.71 L500.22 112.70 L500.31 113.70 L500.40 114.69 L500.49 115.69 L500.57 116.69 L500.66 117.68 L500.75 118.68 L500.83 119.67 L500.92 120.67 L501.00 121.67 L501.08 122.66 L501.16 123.66 L501.24 124.66 L501.32 125.65 L501.40 126.65 L501.48 127.65 L501.56 128.64 L501.64 129.64 L501.72 130.64 L501.80 131.63 L501.88 132.63 L501.96 133.63 L502.04 134.62 L502.12 135.62 L502.20 136.62 L502.28 137.61 L502.36 138.61 L502.44 139.61 L502.52 140.60 L502.60 141.60 L502.67 142.60 L502.75 143.59 L502.82 144.59 L502.90 145.59 L502.99 146.58 L503.08 147.58 L503.17 148.57 L503.27 149.57 L503.37 150.56 L503.48 151.56 L503.59 152.55 L503.71 153.54 L503.83 154.54 L503.96 155.53 L504.09 156.52 L504.22 157.51 L504.36 158.50 L504.51 159.49 L504.65 160.48 L504.81 161.47 L504.96 162.45 L505.12 163.44 L505.28 164.43 L505.45 165.41 L505.62 166.40 L505.79 167.38 L505.97 168.37 L506.15 169.35 L506.34 170.33 L506.54 171.31 L506.73 172.29 L506.94 173.27 L507.14 174.25 L507.35 175.23 L507.56 176.21 L507.77 177.18 L507.99 178.16 L508.20 179.14 L508.42 180.11 L508.65 181.09 L508.88 182.06 L509.12 183.03 L509.38 183.99 L509.65 184.96 L509.94 185.91 L510.24 186.87 L510.55 187.82 L510.89 188.76 L511.26 189.69 L511.69 190.59 L512.19 191.46 L512.73 192.29 L513.38 193.06 L514.19 193.64 L515.07 194.12 L516.02 194.39 L517.02 194.40 L518.02 194.40 L519.02 194.40 L520.02 194.40 L521.02 194.40 L522.02 194.40 L523.02 194.40 L524.02 194.40 L525.02 194.40 L526.02 194.40 L527.02 194.40 L528.02 194.40 L529.02 194.40 L530.02 194.40 L531.02 194.40 L532.02 194.40 L533.02 194.40 L534.02 194.40 L535.02 194.40 L536.02 194.40 L537.02 194.40 L538.02 194.40 L539.02 194.40 L540.02 194.40 L541.02 194.40 L542.02 194.40 L543.02 194.40 L544.02 194.40 L545.02 194.40 L546.02 194.40 L547.02 194.40 L548.02 194.40 L549.02 194.40 L550.02 194.40 L551.02 194.40 L552.02 194.40 L553.02 194.40 L554.02 194.40 L555.02 194.40 L556.02 194.40 L557.02 194.40 L558.02 194.40 L559.02 194.40 L560.02 194.40 L561.02 194.40 L562.02 194.40 L563.02 194.40 L564.02 194.40 L565.02 194.40 L566.02 194.40 L567.02 194.40 L568.02 194.40 L569.02 194.40 L570.02 194.40 L571.02 194.40 L572.01 194.40 L573.01 194.40 L574.01 194.40 L575.01 194.40 L576.01 194.40 L577.01 194.40 L578.01 194.40 L579.01 194.40 L580.01 194.40 L581.01 194.40 L582.01 194.40 L583.01 194.40 L584.01 194.40 L585.01 194.40 L586.01 194.40 L587.01 194.40 L588.01 194.40 L589.01 194.40 L590.01 194.40 L591.01 194.40 L592.01 194.40 L593.01 194.40 L594.01 194.40 L595.01 194.40 L596.01 194.40 L597.01 194.40 L598.01 194.40 L599.01 194.40 L600.01 194.40 L601.01 194.40 L602.01 194.40 L603.01 194.40 L604.01 194.40 L605.01 194.40 L606.01 194.40 L607.01 194.40 L608.01 194.40 L609.01 194.40 L610.01 194.40 L611.01 194.40 L612.01 194.40 L613.01 194.40 L614.01 194.40 L615.01 194.40 L616.01 194.40 L617.01 194.40 L618.01 194.40 L619.01 194.40 L620.01 194.40 L621.01 194.40 L622.01 194.40 L623.01 194.40 L624.01 194.40 L625.01 194.40 L626.00 194.40 L627.00 194.40 L628.00 194.40 L629.00 194.40 L630.00 194.40 L631.00 194.40 L632.00 194.40 L633.00 194.40 L634.00 194.40 L635.00 194.40 L636.00 194.40 L637.00 194.40 L638.00 194.40 L639.00 194.40 L640.00 194.40 L641.00 194.40 L642.00 194.40 L643.00 194.40 L644.00 194.40 L645.00 194.40 L646.00 194.40 L647.00 194.40 L648.00 194.40 L649.00 194.40 L650.00 194.40 L651.00 194.40 L652.00 194.40 L653.00 194.40" fill="none" stroke="#ed7933" stroke-width="5" stroke-linejoin="round" stroke-linecap="butt"/>
<path d="M492.40 182.60 L482.10 200.70 L502.70 200.70 Z" fill="#ed7933"/>
<path d="M374.70 2.70 V203.50 H666.80" fill="none" stroke="#1a1a1a" stroke-width="1.6"/>
<path d="M371.50 194.40 H374.70" stroke="#1a1a1a" stroke-width="1.6"/>
<text transform="translate(368.90 198.60) scale(0.93 1)" font-size="13.5" text-anchor="end">0</text>
<path d="M371.50 140.20 H374.70" stroke="#1a1a1a" stroke-width="1.6"/>
<text transform="translate(368.90 144.40) scale(0.93 1)" font-size="13.5" text-anchor="end">1</text>
<path d="M371.50 86.00 H374.70" stroke="#1a1a1a" stroke-width="1.6"/>
<text transform="translate(368.90 90.20) scale(0.93 1)" font-size="13.5" text-anchor="end">2</text>
<path d="M371.50 31.80 H374.70" stroke="#1a1a1a" stroke-width="1.6"/>
<text transform="translate(368.90 36.00) scale(0.93 1)" font-size="13.5" text-anchor="end">3</text>
<path d="M388.00 203.50 V206.70" stroke="#1a1a1a" stroke-width="1.6"/>
<text transform="translate(388.00 221.10) scale(0.93 1)" font-size="13.5" text-anchor="middle">0</text>
<path d="M414.10 203.50 V206.70" stroke="#1a1a1a" stroke-width="1.6"/>
<text transform="translate(414.10 221.10) scale(0.93 1)" font-size="13.5" text-anchor="middle">0.5</text>
<path d="M440.20 203.50 V206.70" stroke="#1a1a1a" stroke-width="1.6"/>
<text transform="translate(440.20 221.10) scale(0.93 1)" font-size="13.5" text-anchor="middle">1.0</text>
<path d="M466.30 203.50 V206.70" stroke="#1a1a1a" stroke-width="1.6"/>
<text transform="translate(466.30 221.10) scale(0.93 1)" font-size="13.5" text-anchor="middle">1.5</text>
<path d="M492.40 203.50 V206.70" stroke="#1a1a1a" stroke-width="1.6"/>
<text transform="translate(492.40 221.10) scale(0.93 1)" font-size="13.5" text-anchor="middle">2.0</text>
<path d="M518.50 203.50 V206.70" stroke="#1a1a1a" stroke-width="1.6"/>
<text transform="translate(518.50 221.10) scale(0.93 1)" font-size="13.5" text-anchor="middle">2.5</text>
<path d="M544.60 203.50 V206.70" stroke="#1a1a1a" stroke-width="1.6"/>
<text transform="translate(544.60 221.10) scale(0.93 1)" font-size="13.5" text-anchor="middle">3.0</text>
<path d="M570.70 203.50 V206.70" stroke="#1a1a1a" stroke-width="1.6"/>
<text transform="translate(570.70 221.10) scale(0.93 1)" font-size="13.5" text-anchor="middle">3.5</text>
<path d="M596.80 203.50 V206.70" stroke="#1a1a1a" stroke-width="1.6"/>
<text transform="translate(596.80 221.10) scale(0.93 1)" font-size="13.5" text-anchor="middle">4.0</text>
<path d="M622.90 203.50 V206.70" stroke="#1a1a1a" stroke-width="1.6"/>
<text transform="translate(622.90 221.10) scale(0.93 1)" font-size="13.5" text-anchor="middle">4.5</text>
<path d="M649.00 203.50 V206.70" stroke="#1a1a1a" stroke-width="1.6"/>
<text transform="translate(649.00 221.10) scale(0.93 1)" font-size="13.5" text-anchor="middle">5.0</text>
<text x="521.00" y="236.70" font-size="13.5" font-style="italic" text-anchor="middle">β</text>
<text transform="translate(353.30 103.10) rotate(-90)" font-size="12.5" text-anchor="middle">density</text>
<path d="M54.30 443.70 L54.30 443.70 L55.30 443.70 L56.30 443.70 L57.30 443.70 L58.29 443.70 L59.29 443.70 L60.29 443.70 L61.29 443.70 L62.29 443.70 L63.29 443.70 L64.28 443.70 L65.28 443.70 L66.28 443.70 L67.28 443.70 L68.28 443.70 L69.28 443.70 L70.27 443.70 L71.27 443.70 L72.27 443.70 L73.27 443.70 L74.27 443.70 L75.27 443.70 L76.26 443.70 L77.26 443.70 L78.26 443.70 L79.26 443.70 L80.26 443.70 L81.26 443.70 L82.26 443.70 L83.25 443.70 L84.25 443.70 L85.25 443.70 L86.25 443.70 L87.25 443.70 L88.25 443.70 L89.24 443.70 L90.24 443.70 L91.24 443.70 L92.24 443.70 L93.24 443.70 L94.24 443.70 L95.23 443.70 L96.23 443.70 L97.23 443.70 L98.23 443.70 L99.23 443.70 L100.23 443.70 L101.22 443.70 L102.22 443.70 L103.22 443.70 L104.22 443.70 L105.22 443.70 L106.22 443.70 L107.21 443.70 L108.21 443.70 L109.21 443.70 L110.21 443.70 L111.21 443.70 L112.21 443.70 L113.21 443.70 L114.21 443.70 L115.21 443.70 L116.20 443.70 L117.20 443.70 L118.19 443.70 L119.20 443.70 L120.20 443.70 L121.17 443.70 L122.10 443.60 L123.00 443.13 L123.86 442.59 L124.70 442.05 L125.52 441.46 L126.30 440.83 L127.03 440.17 L127.71 439.46 L128.36 438.70 L128.98 437.90 L129.57 437.08 L130.13 436.25 L130.67 435.42 L131.19 434.57 L131.68 433.70 L132.16 432.81 L132.62 431.93 L133.08 431.04 L133.54 430.15 L133.99 429.26 L134.42 428.36 L134.82 427.45 L135.20 426.53 L135.55 425.59 L135.89 424.65 L136.23 423.71 L136.56 422.77 L136.89 421.83 L137.24 420.89 L137.59 419.96 L137.95 419.02 L138.30 418.09 L138.65 417.15 L139.01 416.22 L139.37 415.29 L139.74 414.36 L140.11 413.44 L140.49 412.51 L140.90 411.60 L141.32 410.69 L141.75 409.79 L142.15 408.88 L142.52 407.95 L142.85 407.01 L143.16 406.07 L143.46 405.11 L143.74 404.15 L144.01 403.19 L144.27 402.22 L144.53 401.26 L144.77 400.29 L145.00 399.32 L145.23 398.35 L145.45 397.37 L145.66 396.39 L145.86 395.42 L146.05 394.44 L146.23 393.46 L146.40 392.47 L146.57 391.49 L146.74 390.51 L146.91 389.52 L147.08 388.54 L147.25 387.55 L147.43 386.57 L147.62 385.59 L147.80 384.61 L147.99 383.63 L148.18 382.65 L148.36 381.67 L148.55 380.69 L148.73 379.70 L148.90 378.72 L149.08 377.74 L149.25 376.75 L149.42 375.77 L149.60 374.79 L149.76 373.80 L149.93 372.82 L150.10 371.83 L150.26 370.85 L150.42 369.86 L150.58 368.88 L150.74 367.89 L150.89 366.91 L151.04 365.92 L151.20 364.93 L151.35 363.95 L151.50 362.96 L151.65 361.97 L151.80 360.99 L151.95 360.00 L152.11 359.01 L152.26 358.03 L152.40 357.04 L152.55 356.05 L152.70 355.06 L152.86 354.08 L153.01 353.09 L153.16 352.10 L153.32 351.12 L153.48 350.13 L153.64 349.15 L153.80 348.16 L153.96 347.18 L154.13 346.19 L154.29 345.21 L154.46 344.22 L154.63 343.24 L154.80 342.25 L154.98 341.27 L155.16 340.29 L155.34 339.31 L155.53 338.33 L155.73 337.35 L155.95 336.38 L156.18 335.41 L156.41 334.43 L156.63 333.46 L156.85 332.48 L157.05 331.51 L157.25 330.53 L157.44 329.55 L157.63 328.57 L157.82 327.59 L158.01 326.61 L158.19 325.63 L158.38 324.65 L158.56 323.67 L158.75 322.68 L158.93 321.70 L159.11 320.72 L159.29 319.74 L159.47 318.76 L159.65 317.77 L159.83 316.79 L160.01 315.81 L160.19 314.83 L160.37 313.85 L160.55 312.86 L160.73 311.88 L160.91 310.90 L161.09 309.92 L161.28 308.94 L161.46 307.96 L161.65 306.98 L161.84 305.99 L162.03 305.01 L162.22 304.04 L162.41 303.06 L162.61 302.08 L162.80 301.10 L162.99 300.12 L163.18 299.14 L163.37 298.16 L163.55 297.18 L163.74 296.19 L163.92 295.21 L164.10 294.23 L164.27 293.25 L164.45 292.26 L164.63 291.28 L164.80 290.30 L164.97 289.32 L165.14 288.33 L165.30 287.35 L165.46 286.36 L165.63 285.38 L165.80 284.39 L165.97 283.41 L166.15 282.43 L166.33 281.44 L166.51 280.46 L166.70 279.47 L166.91 278.50 L167.14 277.53 L167.41 276.57 L167.71 275.61 L168.06 274.66 L168.45 273.74 L168.87 272.86 L169.37 271.99 L169.94 271.13 L170.57 270.33 L171.26 269.62 L172.01 268.98 L172.90 268.33 L173.81 267.88 L174.65 267.86 L175.47 268.39 L176.24 269.21 L176.89 270.02 L177.43 270.81 L177.91 271.69 L178.34 272.61 L178.76 273.54 L179.18 274.46 L179.61 275.37 L180.02 276.27 L180.42 277.19 L180.82 278.10 L181.21 279.03 L181.58 279.95 L181.95 280.88 L182.31 281.81 L182.66 282.74 L182.99 283.68 L183.32 284.63 L183.65 285.57 L183.97 286.52 L184.30 287.46 L184.63 288.40 L184.96 289.34 L185.30 290.28 L185.64 291.22 L185.97 292.16 L186.31 293.10 L186.64 294.04 L186.98 294.99 L187.31 295.93 L187.63 296.87 L187.96 297.81 L188.29 298.76 L188.62 299.70 L188.94 300.65 L189.25 301.60 L189.55 302.55 L189.84 303.50 L190.11 304.46 L190.38 305.42 L190.64 306.39 L190.90 307.35 L191.16 308.32 L191.42 309.28 L191.68 310.24 L191.96 311.20 L192.24 312.16 L192.53 313.12 L192.82 314.08 L193.10 315.03 L193.38 315.99 L193.64 316.96 L193.88 317.92 L194.11 318.89 L194.31 319.87 L194.51 320.85 L194.70 321.83 L194.89 322.81 L195.08 323.79 L195.28 324.77 L195.49 325.75 L195.71 326.72 L195.94 327.69 L196.18 328.66 L196.42 329.63 L196.67 330.59 L196.92 331.56 L197.17 332.53 L197.42 333.50 L197.67 334.46 L197.91 335.43 L198.15 336.40 L198.40 337.37 L198.65 338.34 L198.89 339.30 L199.14 340.27 L199.38 341.24 L199.63 342.21 L199.87 343.18 L200.10 344.15 L200.33 345.12 L200.56 346.09 L200.78 347.06 L201.00 348.04 L201.22 349.01 L201.43 349.99 L201.64 350.96 L201.85 351.94 L202.06 352.91 L202.27 353.89 L202.48 354.87 L202.69 355.84 L202.90 356.82 L203.10 357.80 L203.30 358.78 L203.50 359.75 L203.70 360.73 L203.90 361.71 L204.11 362.69 L204.31 363.66 L204.53 364.64 L204.74 365.61 L204.97 366.59 L205.19 367.56 L205.42 368.53 L205.66 369.50 L205.90 370.47 L206.14 371.44 L206.39 372.41 L206.65 373.37 L206.92 374.33 L207.20 375.29 L207.49 376.24 L207.79 377.19 L208.11 378.14 L208.43 379.08 L208.77 380.03 L209.11 380.96 L209.46 381.90 L209.81 382.84 L210.16 383.77 L210.52 384.71 L210.88 385.64 L211.24 386.57 L211.60 387.50 L211.98 388.42 L212.35 389.35 L212.74 390.27 L213.12 391.19 L213.51 392.11 L213.90 393.03 L214.29 393.95 L214.67 394.87 L215.06 395.79 L215.45 396.71 L215.84 397.63 L216.24 398.55 L216.63 399.46 L217.03 400.38 L217.42 401.30 L217.81 402.21 L218.20 403.13 L218.59 404.06 L218.96 404.98 L219.33 405.92 L219.69 406.85 L220.05 407.79 L220.41 408.72 L220.78 409.65 L221.17 410.57 L221.57 411.48 L221.99 412.38 L222.44 413.26 L222.91 414.13 L223.41 415.00 L223.93 415.85 L224.46 416.70 L225.00 417.55 L225.55 418.39 L226.09 419.22 L226.64 420.06 L227.18 420.90 L227.72 421.74 L228.27 422.58 L228.82 423.42 L229.38 424.26 L229.95 425.08 L230.54 425.89 L231.14 426.68 L231.76 427.45 L232.40 428.20 L233.05 428.96 L233.73 429.70 L234.43 430.43 L235.14 431.15 L235.86 431.84 L236.61 432.51 L237.36 433.15 L238.14 433.76 L238.94 434.35 L239.77 434.91 L240.61 435.46 L241.48 435.97 L242.35 436.46 L243.23 436.92 L244.13 437.36 L245.03 437.78 L245.95 438.18 L246.89 438.56 L247.82 438.90 L248.76 439.22 L249.71 439.52 L250.67 439.81 L251.63 440.10 L252.59 440.37 L253.56 440.63 L254.54 440.87 L255.52 441.10 L256.50 441.29 L257.48 441.47 L258.46 441.61 L259.44 441.73 L260.42 441.85 L261.41 441.97 L262.40 442.08 L263.39 442.19 L264.39 442.29 L265.38 442.39 L266.38 442.48 L267.37 442.57 L268.37 442.65 L269.37 442.73 L270.37 442.80 L271.37 442.87 L272.37 442.93 L273.37 442.99 L274.37 443.04 L275.37 443.09 L276.37 443.14 L277.36 443.18 L278.36 443.22 L279.36 443.25 L280.35 443.28 L281.35 443.31 L282.35 443.34 L283.35 443.36 L284.35 443.39 L285.34 443.41 L286.34 443.43 L287.34 443.45 L288.34 443.47 L289.34 443.49 L290.34 443.51 L291.34 443.53 L292.33 443.55 L293.33 443.57 L294.33 443.59 L295.33 443.61 L296.33 443.63 L297.33 443.65 L298.32 443.67 L299.32 443.69 L300.32 443.70 L301.32 443.70 L302.32 443.70 L303.31 443.70 L304.31 443.70 L305.31 443.70 L306.31 443.70 L307.31 443.70 L308.31 443.70 L309.30 443.70 L310.30 443.70 L311.30 443.70 L311.30 443.70 Z M166.70 443.70 V267.50 H168.30 V443.70 Z M168.20 443.70 V264.50 H169.80 V443.70 Z M169.70 443.70 V263.00 H171.30 V443.70 Z M171.20 443.70 V262.00 H172.80 V443.70 Z M172.70 443.70 V261.30 H174.30 V443.70 Z M174.20 443.70 V257.50 H176.00 V443.70 Z M175.80 443.70 V261.30 H177.40 V443.70 Z M177.30 443.70 V262.60 H178.90 V443.70 Z M180.70 443.70 V269.80 H181.90 V443.70 Z M183.70 443.70 V275.70 H184.90 V443.70 Z M186.50 443.70 V286.00 H187.50 V443.70 Z M196.70 443.70 V325.70 H197.70 V443.70 Z M200.70 443.70 V335.40 H201.70 V443.70 Z M208.20 443.70 V372.80 H209.20 V443.70 Z M211.10 443.70 V381.70 H212.10 V443.70 Z M224.60 443.70 V411.60 H225.60 V443.70 Z M232.80 443.70 V423.50 H233.80 V443.70 Z M158.50 443.70 V305.70 H159.50 V443.70 Z" fill="#02517a"/>
<path d="M54.30 443.50 L55.30 443.50 L56.30 443.50 L57.30 443.50 L58.29 443.50 L59.29 443.50 L60.29 443.50 L61.29 443.50 L62.29 443.50 L63.29 443.50 L64.28 443.50 L65.28 443.50 L66.28 443.50 L67.28 443.50 L68.28 443.49 L69.28 443.49 L70.27 443.49 L71.27 443.49 L72.27 443.49 L73.27 443.49 L74.27 443.49 L75.27 443.49 L76.26 443.49 L77.26 443.48 L78.26 443.48 L79.26 443.48 L80.26 443.48 L81.26 443.48 L82.26 443.48 L83.25 443.47 L84.25 443.47 L85.25 443.47 L86.25 443.47 L87.25 443.47 L88.25 443.47 L89.24 443.46 L90.24 443.46 L91.24 443.46 L92.24 443.46 L93.24 443.45 L94.24 443.45 L95.23 443.45 L96.23 443.45 L97.23 443.44 L98.23 443.44 L99.23 443.44 L100.23 443.43 L101.22 443.43 L102.22 443.43 L103.22 443.42 L104.22 443.42 L105.22 443.42 L106.22 443.41 L107.21 443.41 L108.21 443.41 L109.21 443.40 L110.21 443.40 L111.21 443.39 L112.21 443.39 L113.21 443.38 L114.21 443.37 L115.21 443.36 L116.20 443.34 L117.20 443.32 L118.19 443.29 L119.20 443.21 L120.20 443.07 L121.17 442.87 L122.10 442.60 L123.00 442.13 L123.86 441.59 L124.70 441.05 L125.52 440.46 L126.30 439.83 L127.03 439.17 L127.71 438.46 L128.36 437.70 L128.98 436.90 L129.57 436.08 L130.13 435.25 L130.67 434.42 L131.19 433.57 L131.68 432.70 L132.16 431.81 L132.62 430.93 L133.08 430.04 L133.54 429.15 L133.99 428.26 L134.42 427.36 L134.82 426.45 L135.20 425.53 L135.55 424.59 L135.89 423.65 L136.23 422.71 L136.56 421.77 L136.89 420.83 L137.24 419.89 L137.59 418.96 L137.95 418.02 L138.30 417.09 L138.65 416.15 L139.01 415.22 L139.37 414.29 L139.74 413.36 L140.11 412.44 L140.49 411.51 L140.90 410.60 L141.32 409.69 L141.75 408.79 L142.15 407.88 L142.52 406.95 L142.85 406.01 L143.16 405.07 L143.46 404.11 L143.74 403.15 L144.01 402.19 L144.27 401.22 L144.53 400.26 L144.77 399.29 L145.00 398.32 L145.23 397.35 L145.45 396.37 L145.66 395.39 L145.86 394.42 L146.05 393.44 L146.23 392.46 L146.40 391.47 L146.57 390.49 L146.74 389.51 L146.91 388.52 L147.08 387.54 L147.25 386.55 L147.43 385.57 L147.62 384.59 L147.80 383.61 L147.99 382.63 L148.18 381.65 L148.36 380.67 L148.55 379.69 L148.73 378.70 L148.90 377.72 L149.08 376.74 L149.25 375.75 L149.42 374.77 L149.60 373.79 L149.76 372.80 L149.93 371.82 L150.10 370.83 L150.26 369.85 L150.42 368.86 L150.58 367.88 L150.74 366.89 L150.89 365.91 L151.04 364.92 L151.20 363.93 L151.35 362.95 L151.50 361.96 L151.65 360.97 L151.80 359.99 L151.95 359.00 L152.11 358.01 L152.26 357.03 L152.40 356.04 L152.55 355.05 L152.70 354.06 L152.86 353.08 L153.01 352.09 L153.16 351.10 L153.32 350.12 L153.48 349.13 L153.64 348.15 L153.80 347.16 L153.96 346.18 L154.13 345.19 L154.29 344.21 L154.46 343.22 L154.63 342.24 L154.80 341.25 L154.98 340.27 L155.16 339.29 L155.34 338.31 L155.53 337.33 L155.73 336.35 L155.95 335.38 L156.18 334.41 L156.41 333.43 L156.63 332.46 L156.85 331.48 L157.05 330.51 L157.25 329.53 L157.44 328.55 L157.63 327.57 L157.82 326.59 L158.01 325.61 L158.19 324.63 L158.38 323.65 L158.56 322.67 L158.75 321.68 L158.93 320.70 L159.11 319.72 L159.29 318.74 L159.47 317.76 L159.65 316.77 L159.83 315.79 L160.01 314.81 L160.19 313.83 L160.37 312.85 L160.55 311.86 L160.73 310.88 L160.91 309.90 L161.09 308.92 L161.28 307.94 L161.46 306.96 L161.65 305.98 L161.84 304.99 L162.03 304.01 L162.22 303.04 L162.41 302.06 L162.61 301.08 L162.80 300.10 L162.99 299.12 L163.18 298.14 L163.37 297.16 L163.55 296.18 L163.74 295.19 L163.92 294.21 L164.10 293.23 L164.27 292.25 L164.45 291.26 L164.63 290.28 L164.80 289.30 L164.97 288.32 L165.14 287.33 L165.30 286.35 L165.46 285.36 L165.63 284.38 L165.80 283.39 L165.97 282.41 L166.15 281.43 L166.33 280.44 L166.51 279.46 L166.70 278.47 L166.91 277.50 L167.14 276.53 L167.41 275.57 L167.71 274.61 L168.06 273.66 L168.45 272.74 L168.87 271.86 L169.37 270.99 L169.94 270.13 L170.57 269.33 L171.26 268.62 L172.01 267.98 L172.90 267.33 L173.81 266.88 L174.65 266.86 L175.47 267.39 L176.24 268.21 L176.89 269.02 L177.43 269.81 L177.91 270.69 L178.34 271.61 L178.76 272.54 L179.18 273.46 L179.61 274.37 L180.02 275.27 L180.42 276.19 L180.82 277.10 L181.21 278.03 L181.58 278.95 L181.95 279.88 L182.31 280.81 L182.66 281.74 L182.99 282.68 L183.32 283.63 L183.65 284.57 L183.97 285.52 L184.30 286.46 L184.63 287.40 L184.96 288.34 L185.30 289.28 L185.64 290.22 L185.97 291.16 L186.31 292.10 L186.64 293.04 L186.98 293.99 L187.31 294.93 L187.63 295.87 L187.96 296.81 L188.29 297.76 L188.62 298.70 L188.94 299.65 L189.25 300.60 L189.55 301.55 L189.84 302.50 L190.11 303.46 L190.38 304.42 L190.64 305.39 L190.90 306.35 L191.16 307.32 L191.42 308.28 L191.68 309.24 L191.96 310.20 L192.24 311.16 L192.53 312.12 L192.82 313.08 L193.10 314.03 L193.38 314.99 L193.64 315.96 L193.88 316.92 L194.11 317.89 L194.31 318.87 L194.51 319.85 L194.70 320.83 L194.89 321.81 L195.08 322.79 L195.28 323.77 L195.49 324.75 L195.71 325.72 L195.94 326.69 L196.18 327.66 L196.42 328.63 L196.67 329.59 L196.92 330.56 L197.17 331.53 L197.42 332.50 L197.67 333.46 L197.91 334.43 L198.15 335.40 L198.40 336.37 L198.65 337.34 L198.89 338.30 L199.14 339.27 L199.38 340.24 L199.63 341.21 L199.87 342.18 L200.10 343.15 L200.33 344.12 L200.56 345.09 L200.78 346.06 L201.00 347.04 L201.22 348.01 L201.43 348.99 L201.64 349.96 L201.85 350.94 L202.06 351.91 L202.27 352.89 L202.48 353.87 L202.69 354.84 L202.90 355.82 L203.10 356.80 L203.30 357.78 L203.50 358.75 L203.70 359.73 L203.90 360.71 L204.11 361.69 L204.31 362.66 L204.53 363.64 L204.74 364.61 L204.97 365.59 L205.19 366.56 L205.42 367.53 L205.66 368.50 L205.90 369.47 L206.14 370.44 L206.39 371.41 L206.65 372.37 L206.92 373.33 L207.20 374.29 L207.49 375.24 L207.79 376.19 L208.11 377.14 L208.43 378.08 L208.77 379.03 L209.11 379.96 L209.46 380.90 L209.81 381.84 L210.16 382.77 L210.52 383.71 L210.88 384.64 L211.24 385.57 L211.60 386.50 L211.98 387.42 L212.35 388.35 L212.74 389.27 L213.12 390.19 L213.51 391.11 L213.90 392.03 L214.29 392.95 L214.67 393.87 L215.06 394.79 L215.45 395.71 L215.84 396.63 L216.24 397.55 L216.63 398.46 L217.03 399.38 L217.42 400.30 L217.81 401.21 L218.20 402.13 L218.59 403.06 L218.96 403.98 L219.33 404.92 L219.69 405.85 L220.05 406.79 L220.41 407.72 L220.78 408.65 L221.17 409.57 L221.57 410.48 L221.99 411.38 L222.44 412.26 L222.91 413.13 L223.41 414.00 L223.93 414.85 L224.46 415.70 L225.00 416.55 L225.55 417.39 L226.09 418.22 L226.64 419.06 L227.18 419.90 L227.72 420.74 L228.27 421.58 L228.82 422.42 L229.38 423.26 L229.95 424.08 L230.54 424.89 L231.14 425.68 L231.76 426.45 L232.40 427.20 L233.05 427.96 L233.73 428.70 L234.43 429.43 L235.14 430.15 L235.86 430.84 L236.61 431.51 L237.36 432.15 L238.14 432.76 L238.94 433.35 L239.77 433.91 L240.61 434.46 L241.48 434.97 L242.35 435.46 L243.23 435.92 L244.13 436.36 L245.03 436.78 L245.95 437.18 L246.89 437.56 L247.82 437.90 L248.76 438.22 L249.71 438.52 L250.67 438.81 L251.63 439.10 L252.59 439.37 L253.56 439.63 L254.54 439.87 L255.52 440.10 L256.50 440.29 L257.48 440.47 L258.46 440.61 L259.44 440.73 L260.42 440.85 L261.41 440.97 L262.40 441.08 L263.39 441.19 L264.39 441.29 L265.38 441.39 L266.38 441.48 L267.37 441.57 L268.37 441.65 L269.37 441.73 L270.37 441.80 L271.37 441.87 L272.37 441.93 L273.37 441.99 L274.37 442.04 L275.37 442.09 L276.37 442.14 L277.36 442.18 L278.36 442.22 L279.36 442.25 L280.35 442.28 L281.35 442.31 L282.35 442.34 L283.35 442.36 L284.35 442.39 L285.34 442.41 L286.34 442.43 L287.34 442.45 L288.34 442.47 L289.34 442.49 L290.34 442.51 L291.34 442.53 L292.33 442.55 L293.33 442.57 L294.33 442.59 L295.33 442.61 L296.33 442.63 L297.33 442.65 L298.32 442.67 L299.32 442.69 L300.32 442.71 L301.32 442.73 L302.32 442.74 L303.31 442.76 L304.31 442.78 L305.31 442.80 L306.31 442.82 L307.31 442.83 L308.31 442.85 L309.30 442.87 L310.30 442.88 L311.30 442.90" fill="none" stroke="#ed7933" stroke-width="5" stroke-linejoin="round" stroke-linecap="butt"/>
<path d="M182.85 431.90 L172.55 450.00 L193.15 450.00 Z" fill="#ed7933"/>
<path d="M41.30 249.00 V452.90 H324.60" fill="none" stroke="#1a1a1a" stroke-width="1.6"/>
<path d="M38.10 443.70 H41.30" stroke="#1a1a1a" stroke-width="1.6"/>
<text transform="translate(35.50 447.90) scale(0.93 1)" font-size="13.5" text-anchor="end">0</text>
<path d="M38.10 406.40 H41.30" stroke="#1a1a1a" stroke-width="1.6"/>
<text transform="translate(35.50 410.60) scale(0.93 1)" font-size="13.5" text-anchor="end">0.5</text>
<path d="M38.10 369.10 H41.30" stroke="#1a1a1a" stroke-width="1.6"/>
<text transform="translate(35.50 373.30) scale(0.93 1)" font-size="13.5" text-anchor="end">1.0</text>
<path d="M38.10 331.80 H41.30" stroke="#1a1a1a" stroke-width="1.6"/>
<text transform="translate(35.50 336.00) scale(0.93 1)" font-size="13.5" text-anchor="end">1.5</text>
<path d="M38.10 294.50 H41.30" stroke="#1a1a1a" stroke-width="1.6"/>
<text transform="translate(35.50 298.70) scale(0.93 1)" font-size="13.5" text-anchor="end">2.0</text>
<path d="M38.10 257.20 H41.30" stroke="#1a1a1a" stroke-width="1.6"/>
<text transform="translate(35.50 261.40) scale(0.93 1)" font-size="13.5" text-anchor="end">2.5</text>
<path d="M54.30 452.90 V456.10" stroke="#1a1a1a" stroke-width="1.6"/>
<text transform="translate(54.30 470.50) scale(0.93 1)" font-size="13.5" text-anchor="middle">0</text>
<path d="M86.44 452.90 V456.10" stroke="#1a1a1a" stroke-width="1.6"/>
<text transform="translate(86.44 470.50) scale(0.93 1)" font-size="13.5" text-anchor="middle">0.25</text>
<path d="M118.58 452.90 V456.10" stroke="#1a1a1a" stroke-width="1.6"/>
<text transform="translate(118.58 470.50) scale(0.93 1)" font-size="13.5" text-anchor="middle">0.50</text>
<path d="M150.71 452.90 V456.10" stroke="#1a1a1a" stroke-width="1.6"/>
<text transform="translate(150.71 470.50) scale(0.93 1)" font-size="13.5" text-anchor="middle">0.75</text>
<path d="M182.85 452.90 V456.10" stroke="#1a1a1a" stroke-width="1.6"/>
<text transform="translate(182.85 470.50) scale(0.93 1)" font-size="13.5" text-anchor="middle">1.00</text>
<path d="M214.99 452.90 V456.10" stroke="#1a1a1a" stroke-width="1.6"/>
<text transform="translate(214.99 470.50) scale(0.93 1)" font-size="13.5" text-anchor="middle">1.25</text>
<path d="M247.12 452.90 V456.10" stroke="#1a1a1a" stroke-width="1.6"/>
<text transform="translate(247.12 470.50) scale(0.93 1)" font-size="13.5" text-anchor="middle">1.50</text>
<path d="M279.26 452.90 V456.10" stroke="#1a1a1a" stroke-width="1.6"/>
<text transform="translate(279.26 470.50) scale(0.93 1)" font-size="13.5" text-anchor="middle">1.75</text>
<path d="M311.40 452.90 V456.10" stroke="#1a1a1a" stroke-width="1.6"/>
<text transform="translate(311.40 470.50) scale(0.93 1)" font-size="13.5" text-anchor="middle">2.00</text>
<text x="186.20" y="481.60" font-size="13.5" font-style="italic" text-anchor="middle">γ</text>
<text transform="translate(10.90 350.95) rotate(-90)" font-size="12.5" text-anchor="middle">density</text>
<path d="M388.40 443.70 L388.40 443.70 L389.40 443.70 L390.40 443.70 L391.40 443.70 L392.39 443.70 L393.39 443.70 L394.39 443.70 L395.39 443.70 L396.39 443.70 L397.39 443.70 L398.38 443.70 L399.38 443.70 L400.38 443.70 L401.38 443.70 L402.38 443.70 L403.38 443.70 L404.37 443.70 L405.37 443.70 L406.37 443.70 L407.37 443.70 L408.37 443.70 L409.37 443.70 L410.36 443.70 L411.36 443.70 L412.36 443.70 L413.36 443.70 L414.36 443.70 L415.36 443.70 L416.36 443.70 L417.35 443.70 L418.35 443.70 L419.35 443.70 L420.35 443.70 L421.35 443.70 L422.35 443.70 L423.34 443.70 L424.34 443.70 L425.34 443.70 L426.34 443.70 L427.34 443.70 L428.34 443.70 L429.33 443.70 L430.33 443.70 L431.33 443.70 L432.33 443.70 L433.33 443.70 L434.33 443.70 L435.32 443.70 L436.32 443.70 L437.32 443.70 L438.32 443.70 L439.32 443.70 L440.32 443.70 L441.31 443.70 L442.31 443.70 L443.31 443.70 L444.31 443.70 L445.31 443.70 L446.31 443.70 L447.31 443.70 L448.30 443.70 L449.30 443.70 L450.30 443.70 L451.30 443.70 L452.30 443.70 L453.30 443.70 L454.29 443.70 L455.29 443.70 L456.29 443.70 L457.29 443.70 L458.29 443.70 L459.29 443.70 L460.28 443.70 L461.28 443.70 L462.28 443.70 L463.28 443.70 L464.28 443.70 L465.28 443.70 L466.27 443.70 L467.27 443.70 L468.27 443.70 L469.27 443.70 L470.27 443.70 L471.27 443.70 L472.27 443.70 L473.26 443.70 L474.26 443.70 L475.26 443.70 L476.26 443.70 L477.26 443.70 L478.26 443.70 L479.25 443.70 L480.25 443.70 L481.25 443.70 L482.25 443.70 L483.25 443.70 L484.25 443.70 L485.24 443.70 L486.24 443.70 L487.24 443.70 L488.24 443.70 L489.24 443.70 L490.24 443.70 L491.23 443.70 L492.23 443.70 L493.23 443.70 L494.22 443.70 L495.20 443.70 L496.16 443.70 L497.08 443.46 L497.94 442.95 L498.72 442.33 L499.42 441.61 L500.03 440.83 L500.57 439.98 L501.04 439.11 L501.47 438.20 L501.86 437.28 L502.21 436.35 L502.53 435.40 L502.83 434.45 L503.11 433.49 L503.37 432.53 L503.61 431.56 L503.84 430.59 L504.06 429.62 L504.27 428.64 L504.47 427.66 L504.66 426.68 L504.84 425.70 L505.02 424.72 L505.19 423.73 L505.35 422.75 L505.51 421.76 L505.66 420.78 L505.81 419.79 L505.96 418.80 L506.10 417.81 L506.23 416.82 L506.37 415.83 L506.50 414.84 L506.62 413.85 L506.75 412.86 L506.87 411.87 L506.99 410.88 L507.11 409.89 L507.22 408.90 L507.33 407.90 L507.44 406.91 L507.55 405.92 L507.66 404.93 L507.76 403.93 L507.86 402.94 L507.96 401.95 L508.06 400.95 L508.16 399.96 L508.26 398.97 L508.35 397.97 L508.45 396.98 L508.54 395.98 L508.63 394.99 L508.72 394.00 L508.81 393.00 L508.90 392.01 L508.99 391.01 L509.08 390.02 L509.16 389.02 L509.25 388.03 L509.33 387.03 L509.41 386.04 L509.50 385.04 L509.58 384.05 L509.66 383.05 L509.74 382.06 L509.82 381.06 L509.90 380.07 L509.98 379.07 L510.05 378.08 L510.13 377.08 L510.21 376.09 L510.28 375.09 L510.36 374.10 L510.43 373.10 L510.51 372.10 L510.58 371.11 L510.66 370.11 L510.73 369.12 L510.80 368.12 L510.87 367.13 L510.95 366.13 L511.02 365.13 L511.09 364.14 L511.16 363.14 L511.23 362.15 L511.30 361.15 L511.37 360.15 L511.44 359.16 L511.51 358.16 L511.58 357.17 L511.65 356.17 L511.72 355.17 L511.78 354.18 L511.85 353.18 L511.92 352.19 L511.99 351.19 L512.06 350.19 L512.12 349.20 L512.19 348.20 L512.26 347.21 L512.32 346.21 L512.39 345.21 L512.46 344.22 L512.52 343.22 L512.59 342.23 L512.66 341.23 L512.72 340.23 L512.79 339.24 L512.86 338.24 L512.92 337.24 L512.99 336.25 L513.05 335.25 L513.12 334.26 L513.19 333.26 L513.25 332.26 L513.32 331.27 L513.38 330.27 L513.45 329.27 L513.52 328.28 L513.58 327.28 L513.65 326.29 L513.72 325.29 L513.78 324.29 L513.85 323.30 L513.92 322.30 L513.98 321.31 L514.05 320.31 L514.12 319.31 L514.18 318.32 L514.25 317.32 L514.32 316.32 L514.39 315.33 L514.46 314.33 L514.52 313.34 L514.59 312.34 L514.66 311.34 L514.73 310.35 L514.80 309.35 L514.87 308.36 L514.94 307.36 L515.01 306.36 L515.08 305.37 L515.16 304.37 L515.23 303.38 L515.30 302.38 L515.37 301.39 L515.45 300.39 L515.52 299.39 L515.60 298.40 L515.67 297.40 L515.75 296.41 L515.82 295.41 L515.90 294.42 L515.98 293.42 L516.06 292.43 L516.14 291.43 L516.22 290.44 L516.30 289.44 L516.38 288.45 L516.47 287.45 L516.55 286.46 L516.64 285.46 L516.73 284.47 L516.82 283.47 L516.91 282.48 L517.00 281.48 L517.10 280.49 L517.19 279.50 L517.29 278.50 L517.40 277.51 L517.50 276.52 L517.61 275.53 L517.72 274.53 L517.84 273.54 L517.96 272.55 L518.08 271.56 L518.21 270.57 L518.35 269.58 L518.50 268.59 L518.65 267.61 L518.82 266.62 L519.01 265.64 L519.22 264.66 L519.47 263.70 L519.80 262.75 L520.39 261.95 L521.12 262.53 L521.47 263.51 L521.73 264.47 L521.95 265.45 L522.14 266.43 L522.31 267.41 L522.47 268.40 L522.62 269.38 L522.76 270.37 L522.89 271.36 L523.02 272.35 L523.14 273.34 L523.26 274.34 L523.37 275.33 L523.48 276.32 L523.58 277.31 L523.69 278.31 L523.79 279.30 L523.88 280.29 L523.98 281.29 L524.07 282.28 L524.16 283.28 L524.25 284.27 L524.34 285.26 L524.43 286.26 L524.52 287.25 L524.60 288.25 L524.68 289.24 L524.76 290.24 L524.85 291.23 L524.93 292.23 L525.01 293.22 L525.08 294.22 L525.16 295.21 L525.24 296.21 L525.31 297.21 L525.39 298.20 L525.46 299.20 L525.54 300.19 L525.61 301.19 L525.69 302.18 L525.76 303.18 L525.83 304.18 L525.90 305.17 L525.97 306.17 L526.04 307.16 L526.11 308.16 L526.18 309.15 L526.25 310.15 L526.32 311.15 L526.39 312.14 L526.46 313.14 L526.53 314.13 L526.60 315.13 L526.67 316.13 L526.73 317.12 L526.80 318.12 L526.87 319.12 L526.94 320.11 L527.00 321.11 L527.07 322.10 L527.14 323.10 L527.20 324.10 L527.27 325.09 L527.34 326.09 L527.40 327.08 L527.47 328.08 L527.54 329.08 L527.60 330.07 L527.67 331.07 L527.73 332.07 L527.80 333.06 L527.87 334.06 L527.93 335.05 L528.00 336.05 L528.06 337.05 L528.13 338.04 L528.20 339.04 L528.26 340.03 L528.33 341.03 L528.40 342.03 L528.46 343.02 L528.53 344.02 L528.60 345.02 L528.66 346.01 L528.73 347.01 L528.80 348.00 L528.86 349.00 L528.93 350.00 L529.00 350.99 L529.07 351.99 L529.13 352.98 L529.20 353.98 L529.27 354.98 L529.34 355.97 L529.41 356.97 L529.48 357.97 L529.55 358.96 L529.62 359.96 L529.69 360.95 L529.76 361.95 L529.83 362.94 L529.90 363.94 L529.97 364.94 L530.04 365.93 L530.11 366.93 L530.18 367.92 L530.26 368.92 L530.33 369.92 L530.40 370.91 L530.48 371.91 L530.55 372.90 L530.63 373.90 L530.70 374.89 L530.78 375.89 L530.85 376.88 L530.93 377.88 L531.01 378.88 L531.09 379.87 L531.17 380.87 L531.25 381.86 L531.33 382.86 L531.41 383.85 L531.49 384.85 L531.57 385.84 L531.65 386.84 L531.74 387.83 L531.82 388.83 L531.91 389.82 L531.99 390.82 L532.08 391.81 L532.17 392.80 L532.26 393.80 L532.35 394.79 L532.44 395.79 L532.53 396.78 L532.63 397.78 L532.72 398.77 L532.82 399.76 L532.92 400.76 L533.02 401.75 L533.12 402.74 L533.22 403.74 L533.32 404.73 L533.43 405.72 L533.54 406.71 L533.65 407.71 L533.76 408.70 L533.87 409.69 L533.99 410.68 L534.11 411.67 L534.23 412.67 L534.35 413.66 L534.48 414.65 L534.61 415.64 L534.74 416.63 L534.87 417.62 L535.01 418.60 L535.16 419.59 L535.31 420.58 L535.46 421.57 L535.61 422.55 L535.78 423.54 L535.95 424.52 L536.12 425.50 L536.30 426.49 L536.49 427.47 L536.69 428.44 L536.89 429.42 L537.11 430.40 L537.34 431.37 L537.58 432.34 L537.84 433.30 L538.11 434.26 L538.41 435.22 L538.73 436.16 L539.07 437.10 L539.45 438.02 L539.87 438.93 L540.34 439.81 L540.86 440.66 L541.46 441.46 L542.13 442.20 L542.90 442.84 L543.74 443.37 L544.65 443.70 L545.61 443.70 L546.59 443.70 L547.58 443.70 L548.57 443.70 L549.57 443.70 L550.57 443.70 L551.56 443.70 L552.56 443.70 L553.56 443.70 L554.56 443.70 L555.56 443.70 L556.56 443.70 L557.55 443.70 L558.55 443.70 L559.55 443.70 L560.55 443.70 L561.55 443.70 L562.55 443.70 L563.54 443.70 L564.54 443.70 L565.54 443.70 L566.54 443.70 L567.54 443.70 L568.54 443.70 L569.53 443.70 L570.53 443.70 L571.53 443.70 L572.53 443.70 L573.53 443.70 L574.53 443.70 L575.53 443.70 L576.52 443.70 L577.52 443.70 L578.52 443.70 L579.52 443.70 L580.52 443.70 L581.52 443.70 L582.51 443.70 L583.51 443.70 L584.51 443.70 L585.51 443.70 L586.51 443.70 L587.51 443.70 L588.50 443.70 L589.50 443.70 L590.50 443.70 L591.50 443.70 L592.50 443.70 L593.50 443.70 L594.49 443.70 L595.49 443.70 L596.49 443.70 L597.49 443.70 L598.49 443.70 L599.49 443.70 L600.49 443.70 L601.48 443.70 L602.48 443.70 L603.48 443.70 L604.48 443.70 L605.48 443.70 L606.48 443.70 L607.47 443.70 L608.47 443.70 L609.47 443.70 L610.47 443.70 L611.47 443.70 L612.47 443.70 L613.46 443.70 L614.46 443.70 L615.46 443.70 L616.46 443.70 L617.46 443.70 L618.46 443.70 L619.45 443.70 L620.45 443.70 L621.45 443.70 L622.45 443.70 L623.45 443.70 L624.45 443.70 L625.44 443.70 L626.44 443.70 L627.44 443.70 L628.44 443.70 L629.44 443.70 L630.44 443.70 L631.44 443.70 L632.43 443.70 L633.43 443.70 L634.43 443.70 L635.43 443.70 L636.43 443.70 L637.43 443.70 L638.42 443.70 L639.42 443.70 L640.42 443.70 L641.42 443.70 L642.42 443.70 L643.42 443.70 L644.41 443.70 L645.41 443.70 L646.41 443.70 L647.41 443.70 L648.41 443.70 L649.41 443.70 L650.40 443.70 L651.40 443.70 L652.40 443.70 L653.40 443.70 L653.40 443.70 Z M520.00 443.70 V257.80 H521.20 V443.70 Z" fill="#02517a"/>
<path d="M388.40 443.60 L389.40 443.60 L390.40 443.60 L391.40 443.60 L392.39 443.60 L393.39 443.60 L394.39 443.60 L395.39 443.60 L396.39 443.60 L397.39 443.60 L398.38 443.60 L399.38 443.60 L400.38 443.60 L401.38 443.60 L402.38 443.60 L403.38 443.60 L404.37 443.60 L405.37 443.60 L406.37 443.60 L407.37 443.60 L408.37 443.60 L409.37 443.60 L410.36 443.60 L411.36 443.60 L412.36 443.60 L413.36 443.60 L414.36 443.60 L415.36 443.60 L416.36 443.60 L417.35 443.60 L418.35 443.60 L419.35 443.60 L420.35 443.60 L421.35 443.60 L422.35 443.60 L423.34 443.60 L424.34 443.60 L425.34 443.60 L426.34 443.60 L427.34 443.60 L428.34 443.60 L429.33 443.60 L430.33 443.60 L431.33 443.60 L432.33 443.60 L433.33 443.60 L434.33 443.60 L435.32 443.60 L436.32 443.60 L437.32 443.60 L438.32 443.60 L439.32 443.60 L440.32 443.60 L441.31 443.60 L442.31 443.60 L443.31 443.60 L444.31 443.60 L445.31 443.60 L446.31 443.60 L447.31 443.60 L448.30 443.60 L449.30 443.60 L450.30 443.60 L451.30 443.60 L452.30 443.60 L453.30 443.60 L454.29 443.60 L455.29 443.60 L456.29 443.60 L457.29 443.60 L458.29 443.60 L459.29 443.60 L460.28 443.60 L461.28 443.60 L462.28 443.60 L463.28 443.60 L464.28 443.60 L465.28 443.60 L466.27 443.60 L467.27 443.60 L468.27 443.60 L469.27 443.60 L470.27 443.60 L471.27 443.60 L472.27 443.60 L473.26 443.60 L474.26 443.60 L475.26 443.60 L476.26 443.60 L477.26 443.60 L478.26 443.60 L479.25 443.60 L480.25 443.60 L481.25 443.60 L482.25 443.60 L483.25 443.60 L484.25 443.60 L485.24 443.60 L486.24 443.60 L487.24 443.59 L488.24 443.59 L489.24 443.58 L490.24 443.56 L491.23 443.53 L492.23 443.49 L493.23 443.41 L494.22 443.29 L495.20 443.11 L496.16 442.84 L497.08 442.46 L497.94 441.95 L498.72 441.33 L499.42 440.61 L500.03 439.83 L500.57 438.98 L501.04 438.11 L501.47 437.20 L501.86 436.28 L502.21 435.35 L502.53 434.40 L502.83 433.45 L503.11 432.49 L503.37 431.53 L503.61 430.56 L503.84 429.59 L504.06 428.62 L504.27 427.64 L504.47 426.66 L504.66 425.68 L504.84 424.70 L505.02 423.72 L505.19 422.73 L505.35 421.75 L505.51 420.76 L505.66 419.78 L505.81 418.79 L505.96 417.80 L506.10 416.81 L506.23 415.82 L506.37 414.83 L506.50 413.84 L506.62 412.85 L506.75 411.86 L506.87 410.87 L506.99 409.88 L507.11 408.89 L507.22 407.90 L507.33 406.90 L507.44 405.91 L507.55 404.92 L507.66 403.93 L507.76 402.93 L507.86 401.94 L507.96 400.95 L508.06 399.95 L508.16 398.96 L508.26 397.97 L508.35 396.97 L508.45 395.98 L508.54 394.98 L508.63 393.99 L508.72 393.00 L508.81 392.00 L508.90 391.01 L508.99 390.01 L509.08 389.02 L509.16 388.02 L509.25 387.03 L509.33 386.03 L509.41 385.04 L509.50 384.04 L509.58 383.05 L509.66 382.05 L509.74 381.06 L509.82 380.06 L509.90 379.07 L509.98 378.07 L510.05 377.08 L510.13 376.08 L510.21 375.09 L510.28 374.09 L510.36 373.10 L510.43 372.10 L510.51 371.10 L510.58 370.11 L510.66 369.11 L510.73 368.12 L510.80 367.12 L510.87 366.13 L510.95 365.13 L511.02 364.13 L511.09 363.14 L511.16 362.14 L511.23 361.15 L511.30 360.15 L511.37 359.15 L511.44 358.16 L511.51 357.16 L511.58 356.17 L511.65 355.17 L511.72 354.17 L511.78 353.18 L511.85 352.18 L511.92 351.19 L511.99 350.19 L512.06 349.19 L512.12 348.20 L512.19 347.20 L512.26 346.21 L512.32 345.21 L512.39 344.21 L512.46 343.22 L512.52 342.22 L512.59 341.23 L512.66 340.23 L512.72 339.23 L512.79 338.24 L512.86 337.24 L512.92 336.24 L512.99 335.25 L513.05 334.25 L513.12 333.26 L513.19 332.26 L513.25 331.26 L513.32 330.27 L513.38 329.27 L513.45 328.27 L513.52 327.28 L513.58 326.28 L513.65 325.29 L513.72 324.29 L513.78 323.29 L513.85 322.30 L513.92 321.30 L513.98 320.31 L514.05 319.31 L514.12 318.31 L514.18 317.32 L514.25 316.32 L514.32 315.32 L514.39 314.33 L514.46 313.33 L514.52 312.34 L514.59 311.34 L514.66 310.34 L514.73 309.35 L514.80 308.35 L514.87 307.36 L514.94 306.36 L515.01 305.36 L515.08 304.37 L515.16 303.37 L515.23 302.38 L515.30 301.38 L515.37 300.39 L515.45 299.39 L515.52 298.39 L515.60 297.40 L515.67 296.40 L515.75 295.41 L515.82 294.41 L515.90 293.42 L515.98 292.42 L516.06 291.43 L516.14 290.43 L516.22 289.44 L516.30 288.44 L516.38 287.45 L516.47 286.45 L516.55 285.46 L516.64 284.46 L516.73 283.47 L516.82 282.47 L516.91 281.48 L517.00 280.48 L517.10 279.49 L517.19 278.50 L517.29 277.50 L517.40 276.51 L517.50 275.52 L517.61 274.53 L517.72 273.53 L517.84 272.54 L517.96 271.55 L518.08 270.56 L518.21 269.57 L518.35 268.58 L518.50 267.59 L518.65 266.61 L518.82 265.62 L519.01 264.64 L519.22 263.66 L519.47 262.70 L519.80 261.75 L520.39 260.95 L521.12 261.53 L521.47 262.51 L521.73 263.47 L521.95 264.45 L522.14 265.43 L522.31 266.41 L522.47 267.40 L522.62 268.38 L522.76 269.37 L522.89 270.36 L523.02 271.35 L523.14 272.34 L523.26 273.34 L523.37 274.33 L523.48 275.32 L523.58 276.31 L523.69 277.31 L523.79 278.30 L523.88 279.29 L523.98 280.29 L524.07 281.28 L524.16 282.28 L524.25 283.27 L524.34 284.26 L524.43 285.26 L524.52 286.25 L524.60 287.25 L524.68 288.24 L524.76 289.24 L524.85 290.23 L524.93 291.23 L525.01 292.22 L525.08 293.22 L525.16 294.21 L525.24 295.21 L525.31 296.21 L525.39 297.20 L525.46 298.20 L525.54 299.19 L525.61 300.19 L525.69 301.18 L525.76 302.18 L525.83 303.18 L525.90 304.17 L525.97 305.17 L526.04 306.16 L526.11 307.16 L526.18 308.15 L526.25 309.15 L526.32 310.15 L526.39 311.14 L526.46 312.14 L526.53 313.13 L526.60 314.13 L526.67 315.13 L526.73 316.12 L526.80 317.12 L526.87 318.12 L526.94 319.11 L527.00 320.11 L527.07 321.10 L527.14 322.10 L527.20 323.10 L527.27 324.09 L527.34 325.09 L527.40 326.08 L527.47 327.08 L527.54 328.08 L527.60 329.07 L527.67 330.07 L527.73 331.07 L527.80 332.06 L527.87 333.06 L527.93 334.05 L528.00 335.05 L528.06 336.05 L528.13 337.04 L528.20 338.04 L528.26 339.03 L528.33 340.03 L528.40 341.03 L528.46 342.02 L528.53 343.02 L528.60 344.02 L528.66 345.01 L528.73 346.01 L528.80 347.00 L528.86 348.00 L528.93 349.00 L529.00 349.99 L529.07 350.99 L529.13 351.98 L529.20 352.98 L529.27 353.98 L529.34 354.97 L529.41 355.97 L529.48 356.97 L529.55 357.96 L529.62 358.96 L529.69 359.95 L529.76 360.95 L529.83 361.94 L529.90 362.94 L529.97 363.94 L530.04 364.93 L530.11 365.93 L530.18 366.92 L530.26 367.92 L530.33 368.92 L530.40 369.91 L530.48 370.91 L530.55 371.90 L530.63 372.90 L530.70 373.89 L530.78 374.89 L530.85 375.88 L530.93 376.88 L531.01 377.88 L531.09 378.87 L531.17 379.87 L531.25 380.86 L531.33 381.86 L531.41 382.85 L531.49 383.85 L531.57 384.84 L531.65 385.84 L531.74 386.83 L531.82 387.83 L531.91 388.82 L531.99 389.82 L532.08 390.81 L532.17 391.80 L532.26 392.80 L532.35 393.79 L532.44 394.79 L532.53 395.78 L532.63 396.78 L532.72 397.77 L532.82 398.76 L532.92 399.76 L533.02 400.75 L533.12 401.74 L533.22 402.74 L533.32 403.73 L533.43 404.72 L533.54 405.71 L533.65 406.71 L533.76 407.70 L533.87 408.69 L533.99 409.68 L534.11 410.67 L534.23 411.67 L534.35 412.66 L534.48 413.65 L534.61 414.64 L534.74 415.63 L534.87 416.62 L535.01 417.60 L535.16 418.59 L535.31 419.58 L535.46 420.57 L535.61 421.55 L535.78 422.54 L535.95 423.52 L536.12 424.50 L536.30 425.49 L536.49 426.47 L536.69 427.44 L536.89 428.42 L537.11 429.40 L537.34 430.37 L537.58 431.34 L537.84 432.30 L538.11 433.26 L538.41 434.22 L538.73 435.16 L539.07 436.10 L539.45 437.02 L539.87 437.93 L540.34 438.81 L540.86 439.66 L541.46 440.46 L542.13 441.20 L542.90 441.84 L543.74 442.37 L544.65 442.77 L545.61 443.07 L546.59 443.26 L547.58 443.39 L548.57 443.48 L549.57 443.53 L550.57 443.56 L551.56 443.58 L552.56 443.59 L553.56 443.59 L554.56 443.60 L555.56 443.60 L556.56 443.60 L557.55 443.60 L558.55 443.60 L559.55 443.60 L560.55 443.60 L561.55 443.60 L562.55 443.60 L563.54 443.60 L564.54 443.60 L565.54 443.60 L566.54 443.60 L567.54 443.60 L568.54 443.60 L569.53 443.60 L570.53 443.60 L571.53 443.60 L572.53 443.60 L573.53 443.60 L574.53 443.60 L575.53 443.60 L576.52 443.60 L577.52 443.60 L578.52 443.60 L579.52 443.60 L580.52 443.60 L581.52 443.60 L582.51 443.60 L583.51 443.60 L584.51 443.60 L585.51 443.60 L586.51 443.60 L587.51 443.60 L588.50 443.60 L589.50 443.60 L590.50 443.60 L591.50 443.60 L592.50 443.60 L593.50 443.60 L594.49 443.60 L595.49 443.60 L596.49 443.60 L597.49 443.60 L598.49 443.60 L599.49 443.60 L600.49 443.60 L601.48 443.60 L602.48 443.60 L603.48 443.60 L604.48 443.60 L605.48 443.60 L606.48 443.60 L607.47 443.60 L608.47 443.60 L609.47 443.60 L610.47 443.60 L611.47 443.60 L612.47 443.60 L613.46 443.60 L614.46 443.60 L615.46 443.60 L616.46 443.60 L617.46 443.60 L618.46 443.60 L619.45 443.60 L620.45 443.60 L621.45 443.60 L622.45 443.60 L623.45 443.60 L624.45 443.60 L625.44 443.60 L626.44 443.60 L627.44 443.60 L628.44 443.60 L629.44 443.60 L630.44 443.60 L631.44 443.60 L632.43 443.60 L633.43 443.60 L634.43 443.60 L635.43 443.60 L636.43 443.60 L637.43 443.60 L638.42 443.60 L639.42 443.60 L640.42 443.60 L641.42 443.60 L642.42 443.60 L643.42 443.60 L644.41 443.60 L645.41 443.60 L646.41 443.60 L647.41 443.60 L648.41 443.60 L649.41 443.60 L650.40 443.60 L651.40 443.60 L652.40 443.60 L653.40 443.60" fill="none" stroke="#ed7933" stroke-width="5" stroke-linejoin="round" stroke-linecap="butt"/>
<path d="M520.80 431.90 L510.50 450.00 L531.10 450.00 Z" fill="#ed7933"/>
<path d="M374.70 249.00 V452.70 H666.80" fill="none" stroke="#1a1a1a" stroke-width="1.6"/>
<path d="M371.50 443.70 H374.70" stroke="#1a1a1a" stroke-width="1.6"/>
<text transform="translate(368.90 447.90) scale(0.93 1)" font-size="13.5" text-anchor="end">0</text>
<path d="M371.50 393.10 H374.70" stroke="#1a1a1a" stroke-width="1.6"/>
<text transform="translate(368.90 397.30) scale(0.93 1)" font-size="13.5" text-anchor="end">2</text>
<path d="M371.50 342.50 H374.70" stroke="#1a1a1a" stroke-width="1.6"/>
<text transform="translate(368.90 346.70) scale(0.93 1)" font-size="13.5" text-anchor="end">4</text>
<path d="M371.50 291.90 H374.70" stroke="#1a1a1a" stroke-width="1.6"/>
<text transform="translate(368.90 296.10) scale(0.93 1)" font-size="13.5" text-anchor="end">6</text>
<path d="M388.40 452.70 V455.90" stroke="#1a1a1a" stroke-width="1.6"/>
<text transform="translate(388.40 470.30) scale(0.93 1)" font-size="13.5" text-anchor="middle">0</text>
<path d="M421.50 452.70 V455.90" stroke="#1a1a1a" stroke-width="1.6"/>
<text transform="translate(421.50 470.30) scale(0.93 1)" font-size="13.5" text-anchor="middle">0.25</text>
<path d="M454.60 452.70 V455.90" stroke="#1a1a1a" stroke-width="1.6"/>
<text transform="translate(454.60 470.30) scale(0.93 1)" font-size="13.5" text-anchor="middle">0.50</text>
<path d="M487.70 452.70 V455.90" stroke="#1a1a1a" stroke-width="1.6"/>
<text transform="translate(487.70 470.30) scale(0.93 1)" font-size="13.5" text-anchor="middle">0.75</text>
<path d="M520.80 452.70 V455.90" stroke="#1a1a1a" stroke-width="1.6"/>
<text transform="translate(520.80 470.30) scale(0.93 1)" font-size="13.5" text-anchor="middle">1.00</text>
<path d="M553.90 452.70 V455.90" stroke="#1a1a1a" stroke-width="1.6"/>
<text transform="translate(553.90 470.30) scale(0.93 1)" font-size="13.5" text-anchor="middle">1.25</text>
<path d="M587.00 452.70 V455.90" stroke="#1a1a1a" stroke-width="1.6"/>
<text transform="translate(587.00 470.30) scale(0.93 1)" font-size="13.5" text-anchor="middle">1.50</text>
<path d="M620.10 452.70 V455.90" stroke="#1a1a1a" stroke-width="1.6"/>
<text transform="translate(620.10 470.30) scale(0.93 1)" font-size="13.5" text-anchor="middle">1.75</text>
<path d="M653.20 452.70 V455.90" stroke="#1a1a1a" stroke-width="1.6"/>
<text transform="translate(653.20 470.30) scale(0.93 1)" font-size="13.5" text-anchor="middle">2.00</text>
<text x="521.50" y="481.60" font-size="13.5" font-style="italic" text-anchor="middle">γ</text>
<text transform="translate(353.30 350.85) rotate(-90)" font-size="12.5" text-anchor="middle">density</text>
<path d="M50.60 694.00 L50.60 659.00 L50.66 658.00 L50.73 657.01 L50.79 656.01 L50.85 655.01 L50.92 654.02 L50.98 653.02 L51.04 652.02 L51.11 651.03 L51.17 650.03 L51.23 649.03 L51.30 648.04 L51.36 647.04 L51.42 646.04 L51.49 645.04 L51.55 644.05 L51.61 643.05 L51.67 642.05 L51.74 641.06 L51.80 640.06 L51.87 639.06 L51.93 638.07 L52.00 637.07 L52.07 636.08 L52.14 635.08 L52.22 634.08 L52.29 633.09 L52.37 632.09 L52.45 631.10 L52.53 630.10 L52.60 629.10 L52.68 628.11 L52.76 627.11 L52.85 626.12 L52.93 625.12 L53.01 624.13 L53.09 623.13 L53.17 622.13 L53.25 621.14 L53.33 620.14 L53.41 619.15 L53.49 618.15 L53.57 617.16 L53.64 616.16 L53.72 615.16 L53.80 614.17 L53.87 613.17 L53.95 612.18 L54.02 611.18 L54.10 610.18 L54.17 609.19 L54.25 608.19 L54.32 607.20 L54.40 606.20 L54.48 605.21 L54.56 604.21 L54.64 603.21 L54.72 602.22 L54.81 601.22 L54.89 600.23 L54.98 599.23 L55.07 598.24 L55.16 597.25 L55.26 596.25 L55.35 595.26 L55.45 594.26 L55.55 593.27 L55.65 592.28 L55.76 591.28 L55.86 590.29 L55.97 589.30 L56.07 588.30 L56.18 587.31 L56.29 586.32 L56.40 585.32 L56.51 584.33 L56.62 583.34 L56.72 582.34 L56.83 581.35 L56.94 580.36 L57.05 579.37 L57.15 578.37 L57.26 577.38 L57.36 576.39 L57.47 575.39 L57.58 574.40 L57.68 573.41 L57.79 572.41 L57.90 571.42 L58.01 570.43 L58.11 569.43 L58.22 568.44 L58.33 567.45 L58.43 566.45 L58.54 565.46 L58.64 564.47 L58.75 563.48 L58.85 562.48 L58.95 561.49 L59.05 560.49 L59.15 559.50 L59.25 558.51 L59.34 557.51 L59.42 556.52 L59.50 555.52 L59.59 554.52 L59.67 553.53 L59.75 552.53 L59.84 551.53 L59.93 550.54 L60.03 549.55 L60.13 548.56 L60.25 547.57 L60.38 546.58 L60.52 545.59 L60.67 544.60 L60.83 543.61 L61.00 542.62 L61.18 541.64 L61.37 540.65 L61.56 539.67 L61.77 538.70 L61.98 537.72 L62.20 536.76 L62.44 535.78 L62.69 534.80 L62.96 533.82 L63.24 532.85 L63.56 531.90 L63.89 530.96 L64.26 530.05 L64.66 529.16 L65.12 528.24 L65.66 527.34 L66.25 526.48 L66.90 525.74 L67.60 525.15 L68.45 524.59 L69.40 524.10 L70.37 523.82 L71.30 523.88 L72.25 524.23 L73.18 524.75 L74.01 525.31 L74.75 525.92 L75.43 526.66 L76.06 527.47 L76.67 528.29 L77.25 529.10 L77.79 529.94 L78.30 530.81 L78.80 531.68 L79.33 532.54 L79.89 533.35 L80.51 534.12 L81.19 534.84 L81.91 535.55 L82.63 536.25 L83.34 536.96 L84.00 537.70 L84.63 538.47 L85.25 539.26 L85.85 540.06 L86.44 540.88 L87.00 541.71 L87.53 542.55 L88.04 543.40 L88.52 544.27 L88.99 545.15 L89.45 546.04 L89.90 546.94 L90.34 547.84 L90.77 548.74 L91.21 549.64 L91.64 550.54 L92.05 551.45 L92.47 552.36 L92.88 553.27 L93.28 554.18 L93.68 555.10 L94.09 556.01 L94.49 556.93 L94.88 557.85 L95.27 558.76 L95.66 559.69 L96.04 560.61 L96.43 561.53 L96.82 562.45 L97.21 563.37 L97.61 564.28 L98.01 565.20 L98.41 566.11 L98.83 567.02 L99.24 567.93 L99.65 568.84 L100.07 569.75 L100.48 570.66 L100.90 571.56 L101.32 572.47 L101.73 573.38 L102.15 574.29 L102.57 575.19 L102.99 576.10 L103.40 577.01 L103.82 577.92 L104.24 578.82 L104.65 579.73 L105.07 580.64 L105.49 581.55 L105.90 582.46 L106.32 583.37 L106.73 584.27 L107.14 585.18 L107.55 586.10 L107.95 587.01 L108.34 587.93 L108.73 588.85 L109.12 589.77 L109.50 590.69 L109.88 591.62 L110.26 592.54 L110.65 593.46 L111.04 594.38 L111.43 595.30 L111.82 596.22 L112.22 597.13 L112.62 598.05 L113.02 598.96 L113.43 599.88 L113.83 600.79 L114.24 601.70 L114.65 602.61 L115.06 603.52 L115.47 604.43 L115.89 605.34 L116.30 606.25 L116.72 607.16 L117.15 608.06 L117.59 608.96 L118.03 609.85 L118.48 610.74 L118.95 611.62 L119.43 612.50 L119.91 613.38 L120.38 614.26 L120.84 615.15 L121.29 616.04 L121.75 616.93 L122.20 617.82 L122.65 618.71 L123.10 619.60 L123.54 620.49 L123.99 621.39 L124.44 622.28 L124.89 623.17 L125.33 624.07 L125.77 624.96 L126.21 625.86 L126.65 626.76 L127.09 627.66 L127.53 628.55 L127.98 629.44 L128.43 630.33 L128.90 631.22 L129.37 632.10 L129.84 632.98 L130.32 633.86 L130.80 634.73 L131.30 635.61 L131.80 636.47 L132.31 637.33 L132.83 638.18 L133.37 639.01 L133.93 639.84 L134.50 640.65 L135.09 641.46 L135.68 642.27 L136.29 643.06 L136.91 643.85 L137.54 644.63 L138.17 645.41 L138.80 646.18 L139.44 646.94 L140.09 647.70 L140.75 648.45 L141.42 649.20 L142.09 649.93 L142.77 650.67 L143.45 651.40 L144.14 652.12 L144.83 652.85 L145.52 653.57 L146.22 654.28 L146.92 654.99 L147.62 655.70 L148.33 656.41 L149.05 657.10 L149.77 657.80 L150.49 658.49 L151.21 659.17 L151.95 659.85 L152.69 660.52 L153.43 661.19 L154.18 661.85 L154.92 662.52 L155.67 663.18 L156.42 663.84 L157.16 664.51 L157.90 665.19 L158.64 665.87 L159.38 666.55 L160.13 667.21 L160.89 667.84 L161.69 668.43 L162.50 669.00 L163.34 669.54 L164.19 670.07 L165.05 670.58 L165.93 671.08 L166.80 671.56 L167.68 672.04 L168.56 672.52 L169.44 672.98 L170.33 673.44 L171.23 673.89 L172.13 674.31 L173.04 674.72 L173.96 675.11 L174.89 675.47 L175.82 675.81 L176.77 676.15 L177.71 676.47 L178.66 676.78 L179.61 677.10 L180.56 677.42 L181.51 677.74 L182.45 678.07 L183.39 678.41 L184.33 678.75 L185.27 679.09 L186.22 679.42 L187.16 679.74 L188.11 680.05 L189.07 680.34 L190.03 680.61 L190.99 680.86 L191.96 681.10 L192.93 681.33 L193.90 681.55 L194.88 681.76 L195.86 681.97 L196.84 682.17 L197.82 682.37 L198.80 682.56 L199.78 682.76 L200.76 682.95 L201.74 683.13 L202.72 683.31 L203.71 683.48 L204.69 683.66 L205.68 683.83 L206.66 684.00 L207.64 684.17 L208.63 684.34 L209.61 684.52 L210.59 684.70 L211.57 684.89 L212.55 685.08 L213.53 685.28 L214.51 685.47 L215.50 685.66 L216.48 685.85 L217.46 686.03 L218.44 686.20 L219.43 686.37 L220.41 686.54 L221.40 686.70 L222.38 686.86 L223.37 687.02 L224.36 687.17 L225.34 687.32 L226.33 687.46 L227.32 687.60 L228.31 687.73 L229.30 687.85 L230.29 687.97 L231.29 688.08 L232.28 688.18 L233.27 688.29 L234.27 688.39 L235.26 688.49 L236.26 688.58 L237.25 688.68 L238.24 688.78 L239.24 688.87 L240.23 688.96 L241.23 689.06 L242.22 689.15 L243.22 689.24 L244.21 689.32 L245.21 689.41 L246.20 689.50 L247.20 689.59 L248.19 689.68 L249.19 689.77 L250.18 689.87 L251.17 689.97 L252.17 690.06 L253.16 690.16 L254.16 690.26 L255.15 690.35 L256.15 690.44 L257.14 690.53 L258.14 690.61 L259.13 690.69 L260.13 690.77 L261.12 690.84 L262.12 690.92 L263.12 690.99 L264.11 691.06 L265.11 691.13 L266.11 691.19 L267.10 691.26 L268.10 691.32 L269.10 691.37 L270.09 691.43 L271.09 691.48 L272.09 691.53 L273.09 691.58 L274.08 691.63 L275.08 691.68 L276.08 691.73 L277.08 691.78 L278.07 691.83 L279.07 691.88 L280.07 691.93 L281.07 691.98 L282.06 692.03 L283.06 692.08 L284.06 692.13 L285.06 692.19 L286.05 692.24 L287.05 692.29 L288.05 692.34 L289.05 692.39 L290.04 692.44 L291.04 692.50 L292.04 692.55 L293.04 692.60 L294.03 692.66 L295.03 692.71 L296.03 692.75 L297.03 692.80 L298.02 692.85 L299.02 692.89 L300.02 692.94 L301.02 692.98 L302.02 693.03 L303.01 693.07 L304.01 693.11 L305.01 693.15 L306.01 693.18 L307.01 693.21 L308.00 693.24 L309.00 693.26 L310.00 693.28 L311.00 693.30 L311.00 694.00 Z M63.45 694.00 V507.10 H65.55 V694.00 Z M66.75 694.00 V508.60 H68.85 V694.00 Z M70.15 694.00 V513.30 H72.25 V694.00 Z M71.70 694.00 V514.30 H73.50 V694.00 Z M73.95 694.00 V516.70 H76.05 V694.00 Z M76.35 694.00 V518.10 H78.45 V694.00 Z M81.05 694.00 V527.10 H83.15 V694.00 Z M83.10 694.00 V529.00 H84.90 V694.00 Z M85.00 694.00 V533.80 H86.80 V694.00 Z M87.75 694.00 V536.60 H89.85 V694.00 Z M59.80 694.00 V532.40 H61.60 V694.00 Z M61.70 694.00 V527.60 H63.50 V694.00 Z M94.10 694.00 V545.80 H95.90 V694.00 Z M97.40 694.00 V549.90 H99.20 V694.00 Z M98.95 694.00 V555.30 H100.45 V694.00 Z M103.60 694.00 V566.20 H105.40 V694.00 Z M106.30 694.00 V571.60 H108.10 V694.00 Z M110.10 694.00 V583.20 H111.90 V694.00 Z M117.10 694.00 V598.80 H118.90 V694.00 Z M120.05 694.00 V607.00 H121.55 V694.00 Z M122.45 694.00 V608.30 H123.95 V694.00 Z M125.45 694.00 V616.50 H126.95 V694.00 Z M141.00 694.00 V642.20 H142.80 V694.00 Z M144.85 694.00 V647.70 H146.35 V694.00 Z M155.70 694.00 V654.40 H157.50 V694.00 Z M164.30 694.00 V664.80 H166.10 V694.00 Z M188.10 694.00 V673.40 H189.90 V694.00 Z M51.65 694.00 V594.00 H53.15 V694.00 Z M163.75 694.00 V664.40 H165.85 V694.00 Z M165.55 694.00 V665.00 H167.05 V694.00 Z M173.25 694.00 V671.70 H174.75 V694.00 Z M177.65 694.00 V673.20 H179.15 V694.00 Z M185.30 694.00 V673.60 H187.10 V694.00 Z M198.60 694.00 V678.50 H200.40 V694.00 Z M206.30 694.00 V680.40 H208.10 V694.00 Z M212.50 694.00 V682.10 H214.30 V694.00 Z M221.10 694.00 V682.90 H222.90 V694.00 Z M232.25 694.00 V684.80 H233.75 V694.00 Z M235.80 694.00 V684.50 H237.60 V694.00 Z M240.85 694.00 V685.40 H242.35 V694.00 Z M247.65 694.00 V686.60 H249.15 V694.00 Z M256.20 694.00 V686.80 H258.00 V694.00 Z M274.70 694.00 V688.00 H276.50 V694.00 Z" fill="#02517a"/>
<path d="M50.60 658.00 L50.66 657.00 L50.73 656.01 L50.79 655.01 L50.85 654.01 L50.92 653.02 L50.98 652.02 L51.04 651.02 L51.11 650.03 L51.17 649.03 L51.23 648.03 L51.30 647.04 L51.36 646.04 L51.42 645.04 L51.49 644.04 L51.55 643.05 L51.61 642.05 L51.67 641.05 L51.74 640.06 L51.80 639.06 L51.87 638.06 L51.93 637.07 L52.00 636.07 L52.07 635.08 L52.14 634.08 L52.22 633.08 L52.29 632.09 L52.37 631.09 L52.45 630.10 L52.53 629.10 L52.60 628.10 L52.68 627.11 L52.76 626.11 L52.85 625.12 L52.93 624.12 L53.01 623.13 L53.09 622.13 L53.17 621.13 L53.25 620.14 L53.33 619.14 L53.41 618.15 L53.49 617.15 L53.57 616.16 L53.64 615.16 L53.72 614.16 L53.80 613.17 L53.87 612.17 L53.95 611.18 L54.02 610.18 L54.10 609.18 L54.17 608.19 L54.25 607.19 L54.32 606.20 L54.40 605.20 L54.48 604.21 L54.56 603.21 L54.64 602.21 L54.72 601.22 L54.81 600.22 L54.89 599.23 L54.98 598.23 L55.07 597.24 L55.16 596.25 L55.26 595.25 L55.35 594.26 L55.45 593.26 L55.55 592.27 L55.65 591.28 L55.76 590.28 L55.86 589.29 L55.97 588.30 L56.07 587.30 L56.18 586.31 L56.29 585.32 L56.40 584.32 L56.51 583.33 L56.62 582.34 L56.72 581.34 L56.83 580.35 L56.94 579.36 L57.05 578.37 L57.15 577.37 L57.26 576.38 L57.36 575.39 L57.47 574.39 L57.58 573.40 L57.68 572.41 L57.79 571.41 L57.90 570.42 L58.01 569.43 L58.11 568.43 L58.22 567.44 L58.33 566.45 L58.43 565.45 L58.54 564.46 L58.64 563.47 L58.75 562.48 L58.85 561.48 L58.95 560.49 L59.05 559.49 L59.15 558.50 L59.25 557.51 L59.34 556.51 L59.42 555.52 L59.50 554.52 L59.59 553.52 L59.67 552.53 L59.75 551.53 L59.84 550.53 L59.93 549.54 L60.03 548.55 L60.13 547.56 L60.25 546.57 L60.38 545.58 L60.52 544.59 L60.67 543.60 L60.83 542.61 L61.00 541.62 L61.18 540.64 L61.37 539.65 L61.56 538.67 L61.77 537.70 L61.98 536.72 L62.20 535.76 L62.44 534.78 L62.69 533.80 L62.96 532.82 L63.24 531.85 L63.56 530.90 L63.89 529.96 L64.26 529.05 L64.66 528.16 L65.12 527.24 L65.66 526.34 L66.25 525.48 L66.90 524.74 L67.60 524.15 L68.45 523.59 L69.40 523.10 L70.37 522.82 L71.30 522.88 L72.25 523.23 L73.18 523.75 L74.01 524.31 L74.75 524.92 L75.43 525.66 L76.06 526.47 L76.67 527.29 L77.25 528.10 L77.79 528.94 L78.30 529.81 L78.80 530.68 L79.33 531.54 L79.89 532.35 L80.51 533.12 L81.19 533.84 L81.91 534.55 L82.63 535.25 L83.34 535.96 L84.00 536.70 L84.63 537.47 L85.25 538.26 L85.85 539.06 L86.44 539.88 L87.00 540.71 L87.53 541.55 L88.04 542.40 L88.52 543.27 L88.99 544.15 L89.45 545.04 L89.90 545.94 L90.34 546.84 L90.77 547.74 L91.21 548.64 L91.64 549.54 L92.05 550.45 L92.47 551.36 L92.88 552.27 L93.28 553.18 L93.68 554.10 L94.09 555.01 L94.49 555.93 L94.88 556.85 L95.27 557.76 L95.66 558.69 L96.04 559.61 L96.43 560.53 L96.82 561.45 L97.21 562.37 L97.61 563.28 L98.01 564.20 L98.41 565.11 L98.83 566.02 L99.24 566.93 L99.65 567.84 L100.07 568.75 L100.48 569.66 L100.90 570.56 L101.32 571.47 L101.73 572.38 L102.15 573.29 L102.57 574.19 L102.99 575.10 L103.40 576.01 L103.82 576.92 L104.24 577.82 L104.65 578.73 L105.07 579.64 L105.49 580.55 L105.90 581.46 L106.32 582.37 L106.73 583.27 L107.14 584.18 L107.55 585.10 L107.95 586.01 L108.34 586.93 L108.73 587.85 L109.12 588.77 L109.50 589.69 L109.88 590.62 L110.26 591.54 L110.65 592.46 L111.04 593.38 L111.43 594.30 L111.82 595.22 L112.22 596.13 L112.62 597.05 L113.02 597.96 L113.43 598.88 L113.83 599.79 L114.24 600.70 L114.65 601.61 L115.06 602.52 L115.47 603.43 L115.89 604.34 L116.30 605.25 L116.72 606.16 L117.15 607.06 L117.59 607.96 L118.03 608.85 L118.48 609.74 L118.95 610.62 L119.43 611.50 L119.91 612.38 L120.38 613.26 L120.84 614.15 L121.29 615.04 L121.75 615.93 L122.20 616.82 L122.65 617.71 L123.10 618.60 L123.54 619.49 L123.99 620.39 L124.44 621.28 L124.89 622.17 L125.33 623.07 L125.77 623.96 L126.21 624.86 L126.65 625.76 L127.09 626.66 L127.53 627.55 L127.98 628.44 L128.43 629.33 L128.90 630.22 L129.37 631.10 L129.84 631.98 L130.32 632.86 L130.80 633.73 L131.30 634.61 L131.80 635.47 L132.31 636.33 L132.83 637.18 L133.37 638.01 L133.93 638.84 L134.50 639.65 L135.09 640.46 L135.68 641.27 L136.29 642.06 L136.91 642.85 L137.54 643.63 L138.17 644.41 L138.80 645.18 L139.44 645.94 L140.09 646.70 L140.75 647.45 L141.42 648.20 L142.09 648.93 L142.77 649.67 L143.45 650.40 L144.14 651.12 L144.83 651.85 L145.52 652.57 L146.22 653.28 L146.92 653.99 L147.62 654.70 L148.33 655.41 L149.05 656.10 L149.77 656.80 L150.49 657.49 L151.21 658.17 L151.95 658.85 L152.69 659.52 L153.43 660.19 L154.18 660.85 L154.92 661.52 L155.67 662.18 L156.42 662.84 L157.16 663.51 L157.90 664.19 L158.64 664.87 L159.38 665.55 L160.13 666.21 L160.89 666.84 L161.69 667.43 L162.50 668.00 L163.34 668.54 L164.19 669.07 L165.05 669.58 L165.93 670.08 L166.80 670.56 L167.68 671.04 L168.56 671.52 L169.44 671.98 L170.33 672.44 L171.23 672.89 L172.13 673.31 L173.04 673.72 L173.96 674.11 L174.89 674.47 L175.82 674.81 L176.77 675.15 L177.71 675.47 L178.66 675.78 L179.61 676.10 L180.56 676.42 L181.51 676.74 L182.45 677.07 L183.39 677.41 L184.33 677.75 L185.27 678.09 L186.22 678.42 L187.16 678.74 L188.11 679.05 L189.07 679.34 L190.03 679.61 L190.99 679.86 L191.96 680.10 L192.93 680.33 L193.90 680.55 L194.88 680.76 L195.86 680.97 L196.84 681.17 L197.82 681.37 L198.80 681.56 L199.78 681.76 L200.76 681.95 L201.74 682.13 L202.72 682.31 L203.71 682.48 L204.69 682.66 L205.68 682.83 L206.66 683.00 L207.64 683.17 L208.63 683.34 L209.61 683.52 L210.59 683.70 L211.57 683.89 L212.55 684.08 L213.53 684.28 L214.51 684.47 L215.50 684.66 L216.48 684.85 L217.46 685.03 L218.44 685.20 L219.43 685.37 L220.41 685.54 L221.40 685.70 L222.38 685.86 L223.37 686.02 L224.36 686.17 L225.34 686.32 L226.33 686.46 L227.32 686.60 L228.31 686.73 L229.30 686.85 L230.29 686.97 L231.29 687.08 L232.28 687.18 L233.27 687.29 L234.27 687.39 L235.26 687.49 L236.26 687.58 L237.25 687.68 L238.24 687.78 L239.24 687.87 L240.23 687.96 L241.23 688.06 L242.22 688.15 L243.22 688.24 L244.21 688.32 L245.21 688.41 L246.20 688.50 L247.20 688.59 L248.19 688.68 L249.19 688.77 L250.18 688.87 L251.17 688.97 L252.17 689.06 L253.16 689.16 L254.16 689.26 L255.15 689.35 L256.15 689.44 L257.14 689.53 L258.14 689.61 L259.13 689.69 L260.13 689.77 L261.12 689.84 L262.12 689.92 L263.12 689.99 L264.11 690.06 L265.11 690.13 L266.11 690.19 L267.10 690.26 L268.10 690.32 L269.10 690.37 L270.09 690.43 L271.09 690.48 L272.09 690.53 L273.09 690.58 L274.08 690.63 L275.08 690.68 L276.08 690.73 L277.08 690.78 L278.07 690.83 L279.07 690.88 L280.07 690.93 L281.07 690.98 L282.06 691.03 L283.06 691.08 L284.06 691.13 L285.06 691.19 L286.05 691.24 L287.05 691.29 L288.05 691.34 L289.05 691.39 L290.04 691.44 L291.04 691.50 L292.04 691.55 L293.04 691.60 L294.03 691.66 L295.03 691.71 L296.03 691.75 L297.03 691.80 L298.02 691.85 L299.02 691.89 L300.02 691.94 L301.02 691.98 L302.02 692.03 L303.01 692.07 L304.01 692.11 L305.01 692.15 L306.01 692.18 L307.01 692.21 L308.00 692.24 L309.00 692.26 L310.00 692.28 L311.00 692.30" fill="none" stroke="#ed7933" stroke-width="5" stroke-linejoin="round" stroke-linecap="butt"/>
<path d="M93.95 682.20 L83.65 700.30 L104.25 700.30 Z" fill="#ed7933"/>
<path d="M37.45 497.90 V703.50 H323.70" fill="none" stroke="#1a1a1a" stroke-width="1.6"/>
<path d="M34.25 694.00 H37.45" stroke="#1a1a1a" stroke-width="1.6"/>
<text transform="translate(31.65 698.20) scale(0.93 1)" font-size="13.5" text-anchor="end">0</text>
<path d="M34.25 621.85 H37.45" stroke="#1a1a1a" stroke-width="1.6"/>
<text transform="translate(31.65 626.05) scale(0.93 1)" font-size="13.5" text-anchor="end">5</text>
<path d="M34.25 549.70 H37.45" stroke="#1a1a1a" stroke-width="1.6"/>
<text transform="translate(31.65 553.90) scale(0.93 1)" font-size="13.5" text-anchor="end">10</text>
<path d="M50.60 703.50 V706.70" stroke="#1a1a1a" stroke-width="1.6"/>
<text transform="translate(50.60 721.10) scale(0.93 1)" font-size="13.5" text-anchor="middle">0</text>
<path d="M267.35 703.50 V706.70" stroke="#1a1a1a" stroke-width="1.6"/>
<text transform="translate(267.35 721.10) scale(0.93 1)" font-size="13.5" text-anchor="middle">0.25</text>
<text x="186.00" y="731.40" font-size="13.5" font-style="italic" text-anchor="middle">ρ</text>
<text transform="translate(10.90 600.70) rotate(-90)" font-size="12.5" text-anchor="middle">density</text>
<path d="M393.10 693.60 L393.10 693.60 L394.10 693.60 L395.10 693.60 L396.10 693.60 L397.10 693.60 L398.10 693.60 L399.10 693.60 L400.10 693.60 L401.10 693.60 L402.10 693.60 L403.10 693.60 L404.10 693.60 L405.09 693.60 L406.10 693.60 L407.11 693.60 L408.12 693.60 L409.11 693.60 L410.09 693.60 L411.10 693.60 L412.02 693.49 L412.69 692.90 L413.24 692.00 L413.59 691.02 L413.80 690.08 L413.96 689.11 L414.08 688.11 L414.19 687.10 L414.29 686.08 L414.39 685.08 L414.50 684.09 L414.60 683.09 L414.69 682.10 L414.78 681.10 L414.87 680.11 L414.95 679.11 L415.03 678.11 L415.11 677.12 L415.19 676.12 L415.27 675.12 L415.35 674.13 L415.43 673.13 L415.51 672.13 L415.59 671.14 L415.67 670.14 L415.75 669.14 L415.83 668.15 L415.92 667.15 L416.00 666.16 L416.08 665.16 L416.16 664.16 L416.24 663.17 L416.32 662.17 L416.40 661.17 L416.48 660.18 L416.55 659.18 L416.63 658.18 L416.71 657.19 L416.79 656.19 L416.86 655.19 L416.94 654.20 L417.01 653.20 L417.09 652.20 L417.16 651.21 L417.23 650.21 L417.30 649.21 L417.38 648.22 L417.45 647.22 L417.52 646.22 L417.59 645.22 L417.67 644.23 L417.74 643.23 L417.81 642.23 L417.88 641.24 L417.96 640.24 L418.03 639.24 L418.11 638.25 L418.18 637.25 L418.26 636.25 L418.33 635.26 L418.41 634.26 L418.48 633.26 L418.56 632.27 L418.63 631.27 L418.71 630.27 L418.79 629.28 L418.86 628.28 L418.94 627.28 L419.02 626.28 L419.09 625.29 L419.17 624.29 L419.25 623.30 L419.33 622.30 L419.42 621.30 L419.50 620.31 L419.59 619.31 L419.67 618.32 L419.76 617.32 L419.85 616.32 L419.94 615.33 L420.04 614.33 L420.13 613.34 L420.23 612.34 L420.33 611.35 L420.43 610.36 L420.53 609.36 L420.64 608.37 L420.74 607.37 L420.84 606.38 L420.94 605.38 L421.05 604.39 L421.15 603.39 L421.25 602.40 L421.36 601.41 L421.46 600.41 L421.56 599.42 L421.66 598.42 L421.76 597.43 L421.85 596.43 L421.95 595.44 L422.04 594.44 L422.14 593.45 L422.24 592.45 L422.33 591.46 L422.43 590.46 L422.52 589.47 L422.62 588.47 L422.72 587.48 L422.81 586.48 L422.91 585.49 L423.02 584.49 L423.12 583.50 L423.22 582.50 L423.33 581.51 L423.44 580.52 L423.55 579.52 L423.67 578.53 L423.79 577.54 L423.92 576.55 L424.04 575.56 L424.17 574.57 L424.30 573.57 L424.44 572.58 L424.57 571.59 L424.70 570.60 L424.82 569.61 L424.95 568.62 L425.07 567.63 L425.20 566.63 L425.33 565.64 L425.45 564.65 L425.58 563.66 L425.71 562.67 L425.83 561.68 L425.96 560.68 L426.08 559.69 L426.20 558.70 L426.32 557.71 L426.44 556.72 L426.55 555.72 L426.66 554.73 L426.77 553.74 L426.88 552.74 L426.98 551.75 L427.08 550.75 L427.17 549.76 L427.27 548.76 L427.36 547.77 L427.46 546.77 L427.55 545.77 L427.64 544.78 L427.74 543.78 L427.83 542.79 L427.92 541.79 L428.02 540.80 L428.12 539.80 L428.22 538.81 L428.32 537.81 L428.43 536.82 L428.54 535.83 L428.65 534.83 L428.77 533.84 L428.89 532.85 L429.02 531.86 L429.15 530.87 L429.29 529.88 L429.43 528.89 L429.57 527.90 L429.72 526.91 L429.88 525.92 L430.03 524.93 L430.19 523.95 L430.36 522.96 L430.52 521.98 L430.68 520.98 L430.85 519.99 L431.03 519.00 L431.22 518.02 L431.43 517.05 L431.68 516.09 L431.96 514.99 L432.32 513.79 L432.74 512.95 L433.26 512.92 L434.00 513.72 L434.58 514.65 L434.99 515.51 L435.35 516.42 L435.68 517.36 L435.98 518.33 L436.25 519.33 L436.49 520.33 L436.71 521.33 L436.92 522.32 L437.12 523.29 L437.30 524.27 L437.47 525.25 L437.63 526.24 L437.79 527.23 L437.93 528.22 L438.07 529.21 L438.20 530.21 L438.32 531.20 L438.44 532.20 L438.55 533.19 L438.66 534.18 L438.77 535.17 L438.87 536.17 L438.97 537.16 L439.06 538.16 L439.15 539.15 L439.23 540.15 L439.32 541.14 L439.40 542.14 L439.48 543.14 L439.55 544.14 L439.63 545.13 L439.71 546.13 L439.78 547.13 L439.86 548.12 L439.94 549.12 L440.02 550.12 L440.11 551.11 L440.20 552.11 L440.29 553.11 L440.38 554.10 L440.48 555.10 L440.58 556.09 L440.68 557.08 L440.79 558.08 L440.89 559.07 L441.00 560.07 L441.11 561.06 L441.22 562.06 L441.33 563.05 L441.44 564.05 L441.56 565.04 L441.68 566.03 L441.80 567.03 L441.92 568.02 L442.04 569.01 L442.17 570.01 L442.30 571.00 L442.43 571.99 L442.56 572.98 L442.70 573.97 L442.84 574.96 L442.98 575.95 L443.12 576.93 L443.27 577.92 L443.43 578.91 L443.58 579.89 L443.74 580.88 L443.92 581.86 L444.10 582.84 L444.29 583.82 L444.48 584.80 L444.68 585.78 L444.89 586.76 L445.10 587.73 L445.32 588.71 L445.54 589.68 L445.77 590.66 L445.99 591.64 L446.22 592.61 L446.45 593.58 L446.68 594.56 L446.91 595.53 L447.13 596.51 L447.36 597.48 L447.58 598.46 L447.80 599.43 L448.02 600.41 L448.24 601.38 L448.46 602.36 L448.68 603.33 L448.91 604.31 L449.13 605.28 L449.36 606.26 L449.58 607.23 L449.81 608.20 L450.04 609.18 L450.27 610.15 L450.49 611.12 L450.72 612.10 L450.95 613.07 L451.17 614.04 L451.40 615.02 L451.62 615.99 L451.84 616.97 L452.06 617.94 L452.28 618.92 L452.50 619.89 L452.72 620.87 L452.94 621.84 L453.16 622.82 L453.37 623.79 L453.59 624.77 L453.80 625.75 L454.02 626.72 L454.23 627.70 L454.45 628.68 L454.66 629.65 L454.88 630.63 L455.10 631.60 L455.31 632.58 L455.53 633.56 L455.75 634.53 L455.96 635.51 L456.18 636.48 L456.40 637.46 L456.62 638.43 L456.83 639.41 L457.05 640.39 L457.26 641.37 L457.47 642.34 L457.68 643.32 L457.89 644.30 L458.10 645.28 L458.32 646.26 L458.53 647.23 L458.75 648.21 L458.97 649.18 L459.19 650.16 L459.42 651.13 L459.65 652.10 L459.89 653.07 L460.13 654.04 L460.38 655.01 L460.64 655.97 L460.90 656.94 L461.17 657.90 L461.44 658.86 L461.71 659.83 L462.00 660.79 L462.29 661.75 L462.59 662.71 L462.90 663.66 L463.22 664.61 L463.56 665.55 L463.90 666.48 L464.26 667.41 L464.64 668.32 L465.05 669.23 L465.49 670.13 L465.94 671.02 L466.41 671.91 L466.89 672.79 L467.38 673.67 L467.87 674.54 L468.36 675.41 L468.86 676.28 L469.36 677.16 L469.86 678.03 L470.37 678.90 L470.90 679.76 L471.44 680.61 L471.99 681.44 L472.56 682.26 L473.15 683.05 L473.76 683.82 L474.39 684.59 L475.04 685.37 L475.72 686.15 L476.42 686.91 L477.13 687.65 L477.87 688.35 L478.62 689.02 L479.40 689.63 L480.19 690.19 L481.00 690.68 L481.86 691.14 L482.75 691.60 L483.68 692.02 L484.63 692.42 L485.59 692.77 L486.56 693.07 L487.53 693.31 L488.49 693.49 L489.47 693.60 L490.46 693.60 L491.46 693.60 L492.46 693.60 L493.46 693.60 L494.46 693.60 L495.46 693.60 L496.46 693.60 L497.46 693.60 L498.46 693.60 L499.46 693.60 L500.46 693.60 L501.46 693.60 L502.46 693.60 L503.46 693.60 L504.46 693.60 L505.46 693.60 L506.46 693.60 L507.46 693.60 L508.46 693.60 L509.46 693.60 L510.46 693.60 L511.45 693.60 L512.45 693.60 L513.45 693.60 L514.45 693.60 L515.45 693.60 L516.45 693.60 L517.45 693.60 L518.45 693.60 L519.45 693.60 L520.45 693.60 L521.45 693.60 L522.45 693.60 L523.45 693.60 L524.45 693.60 L525.45 693.60 L526.45 693.60 L527.45 693.60 L528.45 693.60 L529.45 693.60 L530.45 693.60 L531.44 693.60 L532.44 693.60 L533.44 693.60 L534.44 693.60 L535.44 693.60 L536.44 693.60 L537.44 693.60 L538.44 693.60 L539.44 693.60 L540.44 693.60 L541.44 693.60 L542.44 693.60 L543.44 693.60 L544.44 693.60 L545.44 693.60 L546.44 693.60 L547.44 693.60 L548.44 693.60 L549.44 693.60 L550.44 693.60 L551.44 693.60 L552.43 693.60 L553.43 693.60 L554.43 693.60 L555.43 693.60 L556.43 693.60 L557.43 693.60 L558.43 693.60 L559.43 693.60 L560.43 693.60 L561.43 693.60 L562.43 693.60 L563.43 693.60 L564.43 693.60 L565.43 693.60 L566.43 693.60 L567.43 693.60 L568.43 693.60 L569.43 693.60 L570.43 693.60 L571.43 693.60 L572.43 693.60 L573.43 693.60 L574.43 693.60 L575.42 693.60 L576.42 693.60 L577.42 693.60 L578.42 693.60 L579.42 693.60 L580.42 693.60 L581.42 693.60 L582.42 693.60 L583.42 693.60 L584.42 693.60 L585.42 693.60 L586.42 693.60 L587.42 693.60 L588.42 693.60 L589.42 693.60 L590.42 693.60 L591.42 693.60 L592.42 693.60 L593.42 693.60 L594.42 693.60 L595.42 693.60 L596.42 693.60 L597.42 693.60 L598.42 693.60 L599.42 693.60 L600.41 693.60 L601.41 693.60 L602.41 693.60 L603.41 693.60 L604.41 693.60 L605.41 693.60 L606.41 693.60 L607.41 693.60 L608.41 693.60 L609.41 693.60 L610.41 693.60 L611.41 693.60 L612.41 693.60 L613.41 693.60 L614.41 693.60 L615.41 693.60 L616.41 693.60 L617.41 693.60 L618.41 693.60 L619.41 693.60 L620.41 693.60 L621.41 693.60 L622.41 693.60 L623.41 693.60 L624.41 693.60 L625.41 693.60 L626.41 693.60 L627.41 693.60 L628.41 693.60 L629.41 693.60 L630.41 693.60 L631.41 693.60 L632.40 693.60 L633.40 693.60 L634.40 693.60 L635.40 693.60 L636.40 693.60 L637.40 693.60 L638.40 693.60 L639.40 693.60 L640.40 693.60 L641.40 693.60 L642.40 693.60 L643.40 693.60 L644.40 693.60 L645.40 693.60 L646.40 693.60 L647.40 693.60 L648.40 693.60 L649.40 693.60 L650.40 693.60 L651.40 693.60 L652.40 693.60 L653.40 693.60 L653.40 693.60 Z M432.35 693.60 V508.60 H433.65 V693.60 Z" fill="#02517a"/>
<path d="M393.10 693.50 L394.10 693.50 L395.10 693.50 L396.10 693.49 L397.10 693.49 L398.10 693.48 L399.10 693.47 L400.10 693.46 L401.10 693.45 L402.10 693.44 L403.10 693.43 L404.10 693.41 L405.09 693.40 L406.10 693.38 L407.11 693.35 L408.12 693.32 L409.11 693.26 L410.09 693.19 L411.10 692.94 L412.02 692.49 L412.69 691.90 L413.24 691.00 L413.59 690.02 L413.80 689.08 L413.96 688.11 L414.08 687.11 L414.19 686.10 L414.29 685.08 L414.39 684.08 L414.50 683.09 L414.60 682.09 L414.69 681.10 L414.78 680.10 L414.87 679.11 L414.95 678.11 L415.03 677.11 L415.11 676.12 L415.19 675.12 L415.27 674.12 L415.35 673.13 L415.43 672.13 L415.51 671.13 L415.59 670.14 L415.67 669.14 L415.75 668.14 L415.83 667.15 L415.92 666.15 L416.00 665.16 L416.08 664.16 L416.16 663.16 L416.24 662.17 L416.32 661.17 L416.40 660.17 L416.48 659.18 L416.55 658.18 L416.63 657.18 L416.71 656.19 L416.79 655.19 L416.86 654.19 L416.94 653.20 L417.01 652.20 L417.09 651.20 L417.16 650.21 L417.23 649.21 L417.30 648.21 L417.38 647.22 L417.45 646.22 L417.52 645.22 L417.59 644.22 L417.67 643.23 L417.74 642.23 L417.81 641.23 L417.88 640.24 L417.96 639.24 L418.03 638.24 L418.11 637.25 L418.18 636.25 L418.26 635.25 L418.33 634.26 L418.41 633.26 L418.48 632.26 L418.56 631.27 L418.63 630.27 L418.71 629.27 L418.79 628.28 L418.86 627.28 L418.94 626.28 L419.02 625.28 L419.09 624.29 L419.17 623.29 L419.25 622.30 L419.33 621.30 L419.42 620.30 L419.50 619.31 L419.59 618.31 L419.67 617.32 L419.76 616.32 L419.85 615.32 L419.94 614.33 L420.04 613.33 L420.13 612.34 L420.23 611.34 L420.33 610.35 L420.43 609.36 L420.53 608.36 L420.64 607.37 L420.74 606.37 L420.84 605.38 L420.94 604.38 L421.05 603.39 L421.15 602.39 L421.25 601.40 L421.36 600.41 L421.46 599.41 L421.56 598.42 L421.66 597.42 L421.76 596.43 L421.85 595.43 L421.95 594.44 L422.04 593.44 L422.14 592.45 L422.24 591.45 L422.33 590.46 L422.43 589.46 L422.52 588.47 L422.62 587.47 L422.72 586.48 L422.81 585.48 L422.91 584.49 L423.02 583.49 L423.12 582.50 L423.22 581.50 L423.33 580.51 L423.44 579.52 L423.55 578.52 L423.67 577.53 L423.79 576.54 L423.92 575.55 L424.04 574.56 L424.17 573.57 L424.30 572.57 L424.44 571.58 L424.57 570.59 L424.70 569.60 L424.82 568.61 L424.95 567.62 L425.07 566.63 L425.20 565.63 L425.33 564.64 L425.45 563.65 L425.58 562.66 L425.71 561.67 L425.83 560.68 L425.96 559.68 L426.08 558.69 L426.20 557.70 L426.32 556.71 L426.44 555.72 L426.55 554.72 L426.66 553.73 L426.77 552.74 L426.88 551.74 L426.98 550.75 L427.08 549.75 L427.17 548.76 L427.27 547.76 L427.36 546.77 L427.46 545.77 L427.55 544.77 L427.64 543.78 L427.74 542.78 L427.83 541.79 L427.92 540.79 L428.02 539.80 L428.12 538.80 L428.22 537.81 L428.32 536.81 L428.43 535.82 L428.54 534.83 L428.65 533.83 L428.77 532.84 L428.89 531.85 L429.02 530.86 L429.15 529.87 L429.29 528.88 L429.43 527.89 L429.57 526.90 L429.72 525.91 L429.88 524.92 L430.03 523.93 L430.19 522.95 L430.36 521.96 L430.52 520.98 L430.68 519.98 L430.85 518.99 L431.03 518.00 L431.22 517.02 L431.43 516.05 L431.68 515.09 L431.96 513.99 L432.32 512.79 L432.74 511.95 L433.26 511.92 L434.00 512.72 L434.58 513.65 L434.99 514.51 L435.35 515.42 L435.68 516.36 L435.98 517.33 L436.25 518.33 L436.49 519.33 L436.71 520.33 L436.92 521.32 L437.12 522.29 L437.30 523.27 L437.47 524.25 L437.63 525.24 L437.79 526.23 L437.93 527.22 L438.07 528.21 L438.20 529.21 L438.32 530.20 L438.44 531.20 L438.55 532.19 L438.66 533.18 L438.77 534.17 L438.87 535.17 L438.97 536.16 L439.06 537.16 L439.15 538.15 L439.23 539.15 L439.32 540.14 L439.40 541.14 L439.48 542.14 L439.55 543.14 L439.63 544.13 L439.71 545.13 L439.78 546.13 L439.86 547.12 L439.94 548.12 L440.02 549.12 L440.11 550.11 L440.20 551.11 L440.29 552.11 L440.38 553.10 L440.48 554.10 L440.58 555.09 L440.68 556.08 L440.79 557.08 L440.89 558.07 L441.00 559.07 L441.11 560.06 L441.22 561.06 L441.33 562.05 L441.44 563.05 L441.56 564.04 L441.68 565.03 L441.80 566.03 L441.92 567.02 L442.04 568.01 L442.17 569.01 L442.30 570.00 L442.43 570.99 L442.56 571.98 L442.70 572.97 L442.84 573.96 L442.98 574.95 L443.12 575.93 L443.27 576.92 L443.43 577.91 L443.58 578.89 L443.74 579.88 L443.92 580.86 L444.10 581.84 L444.29 582.82 L444.48 583.80 L444.68 584.78 L444.89 585.76 L445.10 586.73 L445.32 587.71 L445.54 588.68 L445.77 589.66 L445.99 590.64 L446.22 591.61 L446.45 592.58 L446.68 593.56 L446.91 594.53 L447.13 595.51 L447.36 596.48 L447.58 597.46 L447.80 598.43 L448.02 599.41 L448.24 600.38 L448.46 601.36 L448.68 602.33 L448.91 603.31 L449.13 604.28 L449.36 605.26 L449.58 606.23 L449.81 607.20 L450.04 608.18 L450.27 609.15 L450.49 610.12 L450.72 611.10 L450.95 612.07 L451.17 613.04 L451.40 614.02 L451.62 614.99 L451.84 615.97 L452.06 616.94 L452.28 617.92 L452.50 618.89 L452.72 619.87 L452.94 620.84 L453.16 621.82 L453.37 622.79 L453.59 623.77 L453.80 624.75 L454.02 625.72 L454.23 626.70 L454.45 627.68 L454.66 628.65 L454.88 629.63 L455.10 630.60 L455.31 631.58 L455.53 632.56 L455.75 633.53 L455.96 634.51 L456.18 635.48 L456.40 636.46 L456.62 637.43 L456.83 638.41 L457.05 639.39 L457.26 640.37 L457.47 641.34 L457.68 642.32 L457.89 643.30 L458.10 644.28 L458.32 645.26 L458.53 646.23 L458.75 647.21 L458.97 648.18 L459.19 649.16 L459.42 650.13 L459.65 651.10 L459.89 652.07 L460.13 653.04 L460.38 654.01 L460.64 654.97 L460.90 655.94 L461.17 656.90 L461.44 657.86 L461.71 658.83 L462.00 659.79 L462.29 660.75 L462.59 661.71 L462.90 662.66 L463.22 663.61 L463.56 664.55 L463.90 665.48 L464.26 666.41 L464.64 667.32 L465.05 668.23 L465.49 669.13 L465.94 670.02 L466.41 670.91 L466.89 671.79 L467.38 672.67 L467.87 673.54 L468.36 674.41 L468.86 675.28 L469.36 676.16 L469.86 677.03 L470.37 677.90 L470.90 678.76 L471.44 679.61 L471.99 680.44 L472.56 681.26 L473.15 682.05 L473.76 682.82 L474.39 683.59 L475.04 684.37 L475.72 685.15 L476.42 685.91 L477.13 686.65 L477.87 687.35 L478.62 688.02 L479.40 688.63 L480.19 689.19 L481.00 689.68 L481.86 690.14 L482.75 690.60 L483.68 691.02 L484.63 691.42 L485.59 691.77 L486.56 692.07 L487.53 692.31 L488.49 692.49 L489.47 692.65 L490.46 692.79 L491.46 692.92 L492.46 693.03 L493.46 693.12 L494.46 693.18 L495.46 693.21 L496.46 693.24 L497.46 693.27 L498.46 693.29 L499.46 693.30 L500.46 693.30 L501.46 693.30 L502.46 693.30 L503.46 693.31 L504.46 693.31 L505.46 693.31 L506.46 693.31 L507.46 693.31 L508.46 693.31 L509.46 693.32 L510.46 693.32 L511.45 693.32 L512.45 693.32 L513.45 693.32 L514.45 693.32 L515.45 693.33 L516.45 693.33 L517.45 693.33 L518.45 693.33 L519.45 693.33 L520.45 693.33 L521.45 693.33 L522.45 693.33 L523.45 693.34 L524.45 693.34 L525.45 693.34 L526.45 693.34 L527.45 693.34 L528.45 693.34 L529.45 693.34 L530.45 693.35 L531.44 693.35 L532.44 693.35 L533.44 693.35 L534.44 693.35 L535.44 693.35 L536.44 693.35 L537.44 693.35 L538.44 693.35 L539.44 693.36 L540.44 693.36 L541.44 693.36 L542.44 693.36 L543.44 693.36 L544.44 693.36 L545.44 693.36 L546.44 693.36 L547.44 693.36 L548.44 693.36 L549.44 693.36 L550.44 693.37 L551.44 693.37 L552.43 693.37 L553.43 693.37 L554.43 693.37 L555.43 693.37 L556.43 693.37 L557.43 693.37 L558.43 693.37 L559.43 693.37 L560.43 693.37 L561.43 693.37 L562.43 693.38 L563.43 693.38 L564.43 693.38 L565.43 693.38 L566.43 693.38 L567.43 693.38 L568.43 693.38 L569.43 693.38 L570.43 693.38 L571.43 693.38 L572.43 693.38 L573.43 693.38 L574.43 693.38 L575.42 693.38 L576.42 693.38 L577.42 693.38 L578.42 693.39 L579.42 693.39 L580.42 693.39 L581.42 693.39 L582.42 693.39 L583.42 693.39 L584.42 693.39 L585.42 693.39 L586.42 693.39 L587.42 693.39 L588.42 693.39 L589.42 693.39 L590.42 693.39 L591.42 693.39 L592.42 693.39 L593.42 693.39 L594.42 693.39 L595.42 693.39 L596.42 693.39 L597.42 693.39 L598.42 693.39 L599.42 693.39 L600.41 693.39 L601.41 693.39 L602.41 693.39 L603.41 693.39 L604.41 693.39 L605.41 693.40 L606.41 693.40 L607.41 693.40 L608.41 693.40 L609.41 693.40 L610.41 693.40 L611.41 693.40 L612.41 693.40 L613.41 693.40 L614.41 693.40 L615.41 693.40 L616.41 693.40 L617.41 693.40 L618.41 693.40 L619.41 693.40 L620.41 693.40 L621.41 693.40 L622.41 693.40 L623.41 693.40 L624.41 693.40 L625.41 693.40 L626.41 693.40 L627.41 693.40 L628.41 693.40 L629.41 693.40 L630.41 693.40 L631.41 693.40 L632.40 693.40 L633.40 693.40 L634.40 693.40 L635.40 693.40 L636.40 693.40 L637.40 693.40 L638.40 693.40 L639.40 693.40 L640.40 693.40 L641.40 693.40 L642.40 693.40 L643.40 693.40 L644.40 693.40 L645.40 693.40 L646.40 693.40 L647.40 693.40 L648.40 693.40 L649.40 693.40 L650.40 693.40 L651.40 693.40 L652.40 693.40 L653.40 693.40" fill="none" stroke="#ed7933" stroke-width="5" stroke-linejoin="round" stroke-linecap="butt"/>
<path d="M436.45 681.80 L426.15 699.90 L446.75 699.90 Z" fill="#ed7933"/>
<path d="M380.30 497.70 V702.90 H666.50" fill="none" stroke="#1a1a1a" stroke-width="1.6"/>
<path d="M377.10 693.60 H380.30" stroke="#1a1a1a" stroke-width="1.6"/>
<text transform="translate(374.50 697.80) scale(0.93 1)" font-size="13.5" text-anchor="end">0</text>
<path d="M377.10 639.50 H380.30" stroke="#1a1a1a" stroke-width="1.6"/>
<text transform="translate(374.50 643.70) scale(0.93 1)" font-size="13.5" text-anchor="end">10</text>
<path d="M377.10 585.40 H380.30" stroke="#1a1a1a" stroke-width="1.6"/>
<text transform="translate(374.50 589.60) scale(0.93 1)" font-size="13.5" text-anchor="end">20</text>
<path d="M377.10 531.30 H380.30" stroke="#1a1a1a" stroke-width="1.6"/>
<text transform="translate(374.50 535.50) scale(0.93 1)" font-size="13.5" text-anchor="end">30</text>
<path d="M393.10 702.90 V706.10" stroke="#1a1a1a" stroke-width="1.6"/>
<text transform="translate(393.10 720.50) scale(0.93 1)" font-size="13.5" text-anchor="middle">0</text>
<path d="M609.85 702.90 V706.10" stroke="#1a1a1a" stroke-width="1.6"/>
<text transform="translate(609.85 720.50) scale(0.93 1)" font-size="13.5" text-anchor="middle">0.25</text>
<text x="521.00" y="731.40" font-size="13.5" font-style="italic" text-anchor="middle">ρ</text>
<text transform="translate(353.30 600.30) rotate(-90)" font-size="12.5" text-anchor="middle">density</text>
</svg></body></html>
